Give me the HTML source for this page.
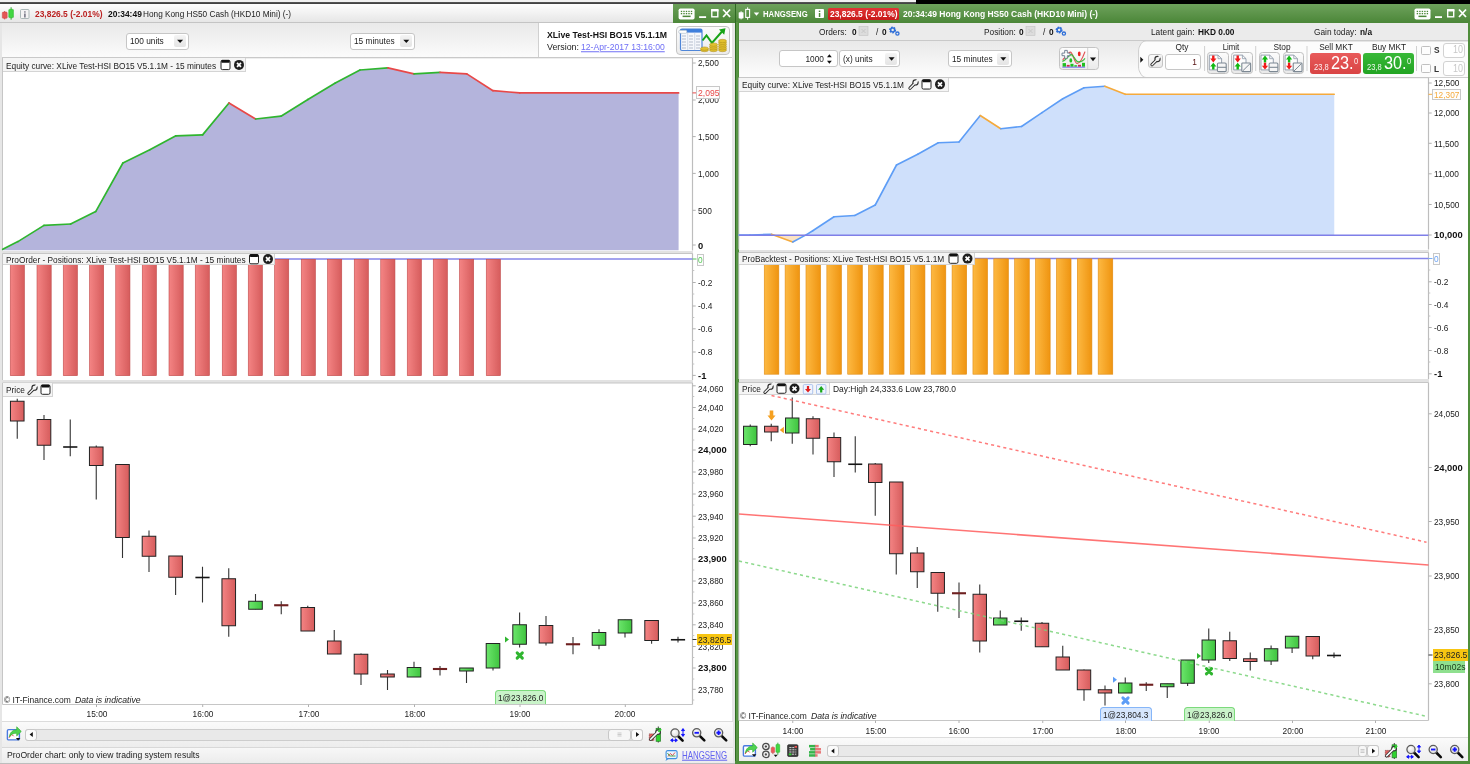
<!DOCTYPE html>
<html><head><meta charset="utf-8"><title>chart</title>
<style>
html,body{margin:0;padding:0;background:#fff}
body{filter:blur(.4px);width:1470px;height:764px;position:relative;overflow:hidden;font-family:"Liberation Sans",sans-serif}
.t{position:absolute;white-space:pre;line-height:1;font-family:"Liberation Sans",sans-serif}
.ov{position:absolute;left:0;top:0;pointer-events:none}
</style></head><body>
<svg class="ov" width="1470" height="764" viewBox="0 0 1470 764">
<defs>
<linearGradient id="gr" x1="0" x2="1" y1="0" y2="0"><stop offset="0" stop-color="#f48484"/><stop offset="1" stop-color="#d65c5c"/></linearGradient>
<linearGradient id="gg" x1="0" x2="1" y1="0" y2="0"><stop offset="0" stop-color="#6ce66c"/><stop offset="1" stop-color="#3fc43f"/></linearGradient>
<linearGradient id="go" x1="0" x2="1" y1="0" y2="0"><stop offset="0" stop-color="#fdb942"/><stop offset="1" stop-color="#ef9410"/></linearGradient>
</defs>
</svg>
<div style="position:absolute;left:0px;top:0px;width:1470px;height:4px;background:#f1f1f1"></div>
<div style="position:absolute;left:0px;top:2px;width:916px;height:2px;background:linear-gradient(#5a5a5a,#3c3c3c)"></div>
<div style="position:absolute;left:916px;top:0px;width:554px;height:4px;background:#000"></div>
<div style="position:absolute;left:0px;top:4px;width:735px;height:18px;background:linear-gradient(#fefefe,#e6e6e6);border-bottom:1px solid #c4c4c4"></div>
<div style="position:absolute;left:673px;top:4px;width:62px;height:19px;background:linear-gradient(#6a9f58,#4c8739)"></div>
<div style="position:absolute;left:0px;top:23px;width:735px;height:34px;background:linear-gradient(#e9e9e9,#fbfbfb)"></div>
<div style="position:absolute;left:0px;top:57.3px;width:735px;height:1px;background:#cfcfcf"></div>
<div style="position:absolute;left:538px;top:23px;width:195px;height:34px;background:#fff;border-left:1px solid #d0d0d0"></div>
<div style="position:absolute;left:0px;top:58px;width:735px;height:706px;background:#fff"></div>
<div style="position:absolute;left:732px;top:23px;width:3px;height:741px;background:#e6e6e6"></div>
<div style="position:absolute;left:0px;top:23px;width:2px;height:741px;background:#e6e6e6"></div>
<span class="t" style="left:35px;top:13.6px;font-size:9.5px;color:#bb2222;transform:translate(0,-50%) scaleX(0.887);transform-origin:0 50%;font-weight:bold;">23,826.5 (-2.01%)</span>
<span class="t" style="left:108px;top:13.6px;font-size:9.5px;color:#111;transform:translate(0,-50%) scaleX(0.89);transform-origin:0 50%;font-weight:bold;">20:34:49</span>
<span class="t" style="left:143.3px;top:13.6px;font-size:9.5px;color:#222;transform:translate(0,-50%) scaleX(0.868);transform-origin:0 50%;">Hong Kong HS50 Cash (HKD10 Mini) (-)</span>
<svg class="ov" width="1470" height="764" viewBox="0 0 1470 764">
<line x1="4.7" y1="11" x2="4.7" y2="19.4" stroke="#c84040" stroke-width=".9"/><rect x="2.3" y="12.1" width="4.9" height="6.2" rx=".8" fill="#e35656" stroke="#cf4545" stroke-width=".5"/>
<line x1="11.1" y1="7.3" x2="11.1" y2="19.7" stroke="#25a825" stroke-width="1"/><rect x="8.8" y="9.4" width="4.6" height="8.2" rx=".6" fill="#41d641" stroke="#2ab82a" stroke-width=".6"/>
<rect x="20.5" y="9.5" width="8.5" height="9" rx="1" fill="#f4f4f4" stroke="#9aa" stroke-width=".8"/><rect x="24.2" y="13.5" width="1.4" height="4" fill="#667"/><rect x="24.2" y="11.3" width="1.4" height="1.3" fill="#667"/>
<rect x="678.6" y="8.5" width="16" height="11" rx="1.8" fill="#fff"/>
<rect x="680.8000000000001" y="10.8" width="1.4" height="1.3" fill="#4c8739"/><rect x="680.8000000000001" y="13" width="1.4" height="1.3" fill="#4c8739"/>
<rect x="683.3000000000001" y="10.8" width="1.4" height="1.3" fill="#4c8739"/><rect x="683.3000000000001" y="13" width="1.4" height="1.3" fill="#4c8739"/>
<rect x="685.8000000000001" y="10.8" width="1.4" height="1.3" fill="#4c8739"/><rect x="685.8000000000001" y="13" width="1.4" height="1.3" fill="#4c8739"/>
<rect x="688.3000000000001" y="10.8" width="1.4" height="1.3" fill="#4c8739"/><rect x="688.3000000000001" y="13" width="1.4" height="1.3" fill="#4c8739"/>
<rect x="690.8000000000001" y="10.8" width="1.4" height="1.3" fill="#4c8739"/><rect x="690.8000000000001" y="13" width="1.4" height="1.3" fill="#4c8739"/>
<rect x="682.6" y="15.6" width="8" height="1.5" fill="#4c8739"/>
<rect x="699.1" y="16.2" width="7" height="1.8" fill="#fff"/>
<rect x="711.8000000000001" y="10.4" width="6" height="6.4" fill="none" stroke="#fff" stroke-width="1.4"/><rect x="711.1" y="9" width="7.4" height="2.4" fill="#fff"/>
<path d="M723.1 9.5 l7 7.5 M730.1 9.5 l-7 7.5" stroke="#fff" stroke-width="1.8" fill="none"/>
</svg>
<div style="position:absolute;left:126.3px;top:32.5px;width:62.5px;height:17px;background:#fff;border:1px solid #c6c6c6;border-radius:3px;box-sizing:border-box"></div>
<div style="position:absolute;left:173.8px;top:35.0px;width:12px;height:12px;background:linear-gradient(#f4f4f4,#e4e4e4);border-radius:2px"></div>
<svg class="ov" width="1470" height="764" viewBox="0 0 1470 764">
<path d="M177.10000000000002 39.7 h6 l-3 3.3z" fill="#111"/>
</svg>
<span class="t" style="left:130.3px;top:41.3px;font-size:9.5px;color:#222;transform:translate(0,-50%) scaleX(0.875);transform-origin:0 50%;">100 units</span>
<div style="position:absolute;left:350px;top:32.5px;width:65px;height:17px;background:#fff;border:1px solid #c6c6c6;border-radius:3px;box-sizing:border-box"></div>
<div style="position:absolute;left:400px;top:35.0px;width:12px;height:12px;background:linear-gradient(#f4f4f4,#e4e4e4);border-radius:2px"></div>
<svg class="ov" width="1470" height="764" viewBox="0 0 1470 764">
<path d="M403.3 39.7 h6 l-3 3.3z" fill="#111"/>
</svg>
<span class="t" style="left:354px;top:41.3px;font-size:9.5px;color:#222;transform:translate(0,-50%) scaleX(0.875);transform-origin:0 50%;">15 minutes</span>
<span class="t" style="left:547px;top:35.4px;font-size:9.5px;color:#111;transform:translate(0,-50%) scaleX(0.914);transform-origin:0 50%;font-weight:bold;">XLive Test-HSI BO15 V5.1.1M</span>
<span class="t" style="left:547px;top:46.7px;font-size:9.5px;color:#222;transform:translate(0,-50%) scaleX(0.93);transform-origin:0 50%;">Version:</span>
<span class="t" style="left:581px;top:46.7px;font-size:9.5px;color:#6f6ff5;transform:translate(0,-50%) scaleX(0.906);transform-origin:0 50%;text-decoration:underline;">12-Apr-2017 13:16:00</span>
<div style="position:absolute;left:675.5px;top:25.5px;width:54px;height:29px;background:linear-gradient(#fbfbfb,#ececec);border:1px solid #c4c4c4;border-radius:4px;box-sizing:border-box"></div>
<svg class="ov" width="1470" height="764" viewBox="0 0 1470 764">
<g>
<rect x="680.5" y="29" width="21.5" height="21.5" rx="1.5" fill="#f6f8fc" stroke="#4f86d8" stroke-width="1.2"/>
<rect x="680.5" y="29" width="21.5" height="3.6" fill="#3f7fdc"/>
<rect x="678.8" y="30.3" width="8" height="3" rx="1" fill="#fff" stroke="#9ab" stroke-width=".5"/>
<path d="M687.7 32.6v17.5M694.7 32.6v17.5" stroke="#b8c4d8" stroke-width=".6"/>
<path d="M682 36h4M682 39h4M682 42h4M682 45h4M682 48h4M689 36h4M689 39h4M689 42h4M689 45h4M689 48h4M696 36h4M696 39h4M696 42h4M696 45h4M696 48h4" stroke="#98a4b8" stroke-width=".7"/>
<path d="M702.5 40.5l4-5 5.5 7.5 10-11.5" fill="none" stroke="#17a317" stroke-width="2"/>
<path d="M719 29.5l6.5-1.3-1.3 6.5z" fill="#17a317"/>
<g fill="#e2c12e" stroke="#a8891a" stroke-width=".5">
<ellipse cx="704.5" cy="50" rx="4" ry="1.7"/><ellipse cx="704.5" cy="48.6" rx="4" ry="1.7"/>
<ellipse cx="713.5" cy="50" rx="4" ry="1.7"/><ellipse cx="713.5" cy="48.2" rx="4" ry="1.7"/><ellipse cx="713.5" cy="46.4" rx="4" ry="1.7"/><ellipse cx="713.5" cy="44.6" rx="4" ry="1.7"/>
<ellipse cx="722.5" cy="50" rx="4" ry="1.7"/><ellipse cx="722.5" cy="48.2" rx="4" ry="1.7"/><ellipse cx="722.5" cy="46.4" rx="4" ry="1.7"/><ellipse cx="722.5" cy="44.6" rx="4" ry="1.7"/><ellipse cx="722.5" cy="42.8" rx="4" ry="1.7"/><ellipse cx="722.5" cy="41" rx="4" ry="1.7"/>
</g></g>
<path d="M2.5 250.5V57.8H692.5" fill="none" stroke="#c6c6c6" stroke-width="1"/>
<path d="M692.5 57.8V250.5" stroke="#bdbdbd" stroke-width="1.2"/>
<polygon points="2.7,249.3 17.9,241.6 44,225.4 70.6,224 95.7,211.6 122.9,163 149.8,149.8 175.9,135.8 202.6,134.9 229,103 255.6,119 281,116.2 307.9,99.5 335.3,83 360,70 387.9,67.9 414,73.9 440,72.3 466.8,73.9 493,90.7 519.8,92.9 678.6,92.9 678.6,250.2 2.7,250.2" fill="#b4b4dc"/>
<line x1="2.7" y1="249.3" x2="17.9" y2="241.6" stroke="#2fb52f" stroke-width="1.7" stroke-linecap="round"/>
<line x1="17.9" y1="241.6" x2="44" y2="225.4" stroke="#2fb52f" stroke-width="1.7" stroke-linecap="round"/>
<line x1="44" y1="225.4" x2="70.6" y2="224" stroke="#2fb52f" stroke-width="1.7" stroke-linecap="round"/>
<line x1="70.6" y1="224" x2="95.7" y2="211.6" stroke="#2fb52f" stroke-width="1.7" stroke-linecap="round"/>
<line x1="95.7" y1="211.6" x2="122.9" y2="163" stroke="#2fb52f" stroke-width="1.7" stroke-linecap="round"/>
<line x1="122.9" y1="163" x2="149.8" y2="149.8" stroke="#2fb52f" stroke-width="1.7" stroke-linecap="round"/>
<line x1="149.8" y1="149.8" x2="175.9" y2="135.8" stroke="#2fb52f" stroke-width="1.7" stroke-linecap="round"/>
<line x1="175.9" y1="135.8" x2="202.6" y2="134.9" stroke="#2fb52f" stroke-width="1.7" stroke-linecap="round"/>
<line x1="202.6" y1="134.9" x2="229" y2="103" stroke="#2fb52f" stroke-width="1.7" stroke-linecap="round"/>
<line x1="229" y1="103" x2="255.6" y2="119" stroke="#e84848" stroke-width="1.7" stroke-linecap="round"/>
<line x1="255.6" y1="119" x2="281" y2="116.2" stroke="#2fb52f" stroke-width="1.7" stroke-linecap="round"/>
<line x1="281" y1="116.2" x2="307.9" y2="99.5" stroke="#2fb52f" stroke-width="1.7" stroke-linecap="round"/>
<line x1="307.9" y1="99.5" x2="335.3" y2="83" stroke="#2fb52f" stroke-width="1.7" stroke-linecap="round"/>
<line x1="335.3" y1="83" x2="360" y2="70" stroke="#2fb52f" stroke-width="1.7" stroke-linecap="round"/>
<line x1="360" y1="70" x2="387.9" y2="67.9" stroke="#2fb52f" stroke-width="1.7" stroke-linecap="round"/>
<line x1="387.9" y1="67.9" x2="414" y2="73.9" stroke="#e84848" stroke-width="1.7" stroke-linecap="round"/>
<line x1="414" y1="73.9" x2="440" y2="72.3" stroke="#2fb52f" stroke-width="1.7" stroke-linecap="round"/>
<line x1="440" y1="72.3" x2="466.8" y2="73.9" stroke="#e84848" stroke-width="1.7" stroke-linecap="round"/>
<line x1="466.8" y1="73.9" x2="493" y2="90.7" stroke="#e84848" stroke-width="1.7" stroke-linecap="round"/>
<line x1="493" y1="90.7" x2="519.8" y2="92.9" stroke="#e84848" stroke-width="1.7" stroke-linecap="round"/>
<line x1="519.8" y1="92.9" x2="678.6" y2="92.9" stroke="#e84848" stroke-width="1.7" stroke-linecap="round"/>
</svg>
<div style="position:absolute;left:3px;top:58.3px;width:243px;height:14px;background:#f5f5f5;border:1px solid #d4d4d4;border-left:none;border-top:none;box-sizing:border-box"></div>
<span class="t" style="left:6px;top:65.6px;font-size:9.5px;color:#222;transform:translate(0,-50%) scaleX(0.875);transform-origin:0 50%;">Equity curve: XLive Test-HSI BO15 V5.1.1M - 15 minutes</span>
<svg class="ov" width="1470" height="764" viewBox="0 0 1470 764">
<rect x="221" y="60.3" width="9" height="9.3" rx="1.4" fill="#fff" stroke="#222" stroke-width="1"/><rect x="221.3" y="60.099999999999994" width="8.4" height="2.6" rx=".8" fill="#111"/>
<circle cx="239" cy="64.89999999999999" r="5" fill="#1e1e1e"/><path d="M237 62.9l4 4M241 62.9l-4 4" stroke="#fff" stroke-width="1.7"/>
<line x1="692.5" y1="63" x2="695.7" y2="63" stroke="#b0b0b0" stroke-width="1"/>
</svg>
<span class="t" style="left:697.7px;top:63.4px;font-size:9.5px;color:#222;transform:translate(0,-50%) scaleX(0.875);transform-origin:0 50%;">2,500</span>
<svg class="ov" width="1470" height="764" viewBox="0 0 1470 764">
<line x1="692.5" y1="100" x2="695.7" y2="100" stroke="#b0b0b0" stroke-width="1"/>
</svg>
<span class="t" style="left:697.7px;top:100.4px;font-size:9.5px;color:#222;transform:translate(0,-50%) scaleX(0.875);transform-origin:0 50%;">2,000</span>
<svg class="ov" width="1470" height="764" viewBox="0 0 1470 764">
<line x1="692.5" y1="136.6" x2="695.7" y2="136.6" stroke="#b0b0b0" stroke-width="1"/>
</svg>
<span class="t" style="left:697.7px;top:137.0px;font-size:9.5px;color:#222;transform:translate(0,-50%) scaleX(0.875);transform-origin:0 50%;">1,500</span>
<svg class="ov" width="1470" height="764" viewBox="0 0 1470 764">
<line x1="692.5" y1="173.4" x2="695.7" y2="173.4" stroke="#b0b0b0" stroke-width="1"/>
</svg>
<span class="t" style="left:697.7px;top:173.8px;font-size:9.5px;color:#222;transform:translate(0,-50%) scaleX(0.875);transform-origin:0 50%;">1,000</span>
<svg class="ov" width="1470" height="764" viewBox="0 0 1470 764">
<line x1="692.5" y1="210.3" x2="695.7" y2="210.3" stroke="#b0b0b0" stroke-width="1"/>
</svg>
<span class="t" style="left:697.7px;top:210.70000000000002px;font-size:9.5px;color:#222;transform:translate(0,-50%) scaleX(0.875);transform-origin:0 50%;">500</span>
<span class="t" style="left:697.7px;top:246.3px;font-size:9.7px;color:#111;transform:translate(0,-50%) scaleX(0.97);transform-origin:0 50%;font-weight:bold;">0</span>
<svg class="ov" width="1470" height="764" viewBox="0 0 1470 764">
<line x1="692.5" y1="245" x2="695.7" y2="245" stroke="#b0b0b0"/>
<line x1="692.5" y1="92.9" x2="696.5" y2="92.9" stroke="#e84848" stroke-width="1"/>
</svg>
<div style="position:absolute;left:696.3px;top:86px;width:23.7px;height:12.6px;background:#fdfdfd;border:1px solid #c8c8c8;box-sizing:border-box"></div>
<span class="t" style="left:698px;top:92.9px;font-size:9.5px;color:#e84848;transform:translate(0,-50%) scaleX(0.9);transform-origin:0 50%;">2,095</span>
<div style="position:absolute;left:2px;top:250.5px;width:691.0px;height:3px;background:#e2e2e2"></div>
<svg class="ov" width="1470" height="764" viewBox="0 0 1470 764">
<path d="M2.5 380V253.5H692.5" fill="none" stroke="#c6c6c6" stroke-width="1"/>
<path d="M692.5 253.5V380" stroke="#bdbdbd" stroke-width="1.2"/>
<line x1="3" y1="259" x2="692.5" y2="259" stroke="#8484ea" stroke-width="1.5"/>
<rect x="10.25" y="259.3" width="14.2" height="116.4" fill="url(#gr)" stroke="#c04c4c" stroke-width=".6"/>
<rect x="37.0" y="259.3" width="14.2" height="116.4" fill="url(#gr)" stroke="#c04c4c" stroke-width=".6"/>
<rect x="63.25" y="259.3" width="14.2" height="116.4" fill="url(#gr)" stroke="#c04c4c" stroke-width=".6"/>
<rect x="89.5" y="259.3" width="14.2" height="116.4" fill="url(#gr)" stroke="#c04c4c" stroke-width=".6"/>
<rect x="115.75" y="259.3" width="14.2" height="116.4" fill="url(#gr)" stroke="#c04c4c" stroke-width=".6"/>
<rect x="142.25" y="259.3" width="14.2" height="116.4" fill="url(#gr)" stroke="#c04c4c" stroke-width=".6"/>
<rect x="169.0" y="259.3" width="14.2" height="116.4" fill="url(#gr)" stroke="#c04c4c" stroke-width=".6"/>
<rect x="195.25" y="259.3" width="14.2" height="116.4" fill="url(#gr)" stroke="#c04c4c" stroke-width=".6"/>
<rect x="222.25" y="259.3" width="14.2" height="116.4" fill="url(#gr)" stroke="#c04c4c" stroke-width=".6"/>
<rect x="248.25" y="259.3" width="14.2" height="116.4" fill="url(#gr)" stroke="#c04c4c" stroke-width=".6"/>
<rect x="274.55" y="259.3" width="14.2" height="116.4" fill="url(#gr)" stroke="#c04c4c" stroke-width=".6"/>
<rect x="301.25" y="259.3" width="14.2" height="116.4" fill="url(#gr)" stroke="#c04c4c" stroke-width=".6"/>
<rect x="327.55" y="259.3" width="14.2" height="116.4" fill="url(#gr)" stroke="#c04c4c" stroke-width=".6"/>
<rect x="354.25" y="259.3" width="14.2" height="116.4" fill="url(#gr)" stroke="#c04c4c" stroke-width=".6"/>
<rect x="380.75" y="259.3" width="14.2" height="116.4" fill="url(#gr)" stroke="#c04c4c" stroke-width=".6"/>
<rect x="407.25" y="259.3" width="14.2" height="116.4" fill="url(#gr)" stroke="#c04c4c" stroke-width=".6"/>
<rect x="433.25" y="259.3" width="14.2" height="116.4" fill="url(#gr)" stroke="#c04c4c" stroke-width=".6"/>
<rect x="459.5" y="259.3" width="14.2" height="116.4" fill="url(#gr)" stroke="#c04c4c" stroke-width=".6"/>
<rect x="486.25" y="259.3" width="14.2" height="116.4" fill="url(#gr)" stroke="#c04c4c" stroke-width=".6"/>
</svg>
<div style="position:absolute;left:3px;top:253.7px;width:272px;height:11.6px;background:#f5f5f5;border:1px solid #d4d4d4;border-left:none;border-top:none;box-sizing:border-box"></div>
<span class="t" style="left:6px;top:259.8px;font-size:9.5px;color:#222;transform:translate(0,-50%) scaleX(0.875);transform-origin:0 50%;">ProOrder - Positions: XLive Test-HSI BO15 V5.1.1M - 15 minutes</span>
<svg class="ov" width="1470" height="764" viewBox="0 0 1470 764">
<rect x="249.5" y="254.5" width="9" height="9.3" rx="1.4" fill="#fff" stroke="#222" stroke-width="1"/><rect x="249.8" y="254.3" width="8.4" height="2.6" rx=".8" fill="#111"/>
<circle cx="268" cy="259.1" r="5" fill="#1e1e1e"/><path d="M266 257.1l4 4M270 257.1l-4 4" stroke="#fff" stroke-width="1.7"/>
<line x1="692.5" y1="282.5" x2="695.7" y2="282.5" stroke="#b0b0b0" stroke-width="1"/>
</svg>
<span class="t" style="left:697.7px;top:282.9px;font-size:9.5px;color:#222;transform:translate(0,-50%) scaleX(0.875);transform-origin:0 50%;">-0.2</span>
<svg class="ov" width="1470" height="764" viewBox="0 0 1470 764">
<line x1="692.5" y1="306" x2="695.7" y2="306" stroke="#b0b0b0" stroke-width="1"/>
</svg>
<span class="t" style="left:697.7px;top:306.4px;font-size:9.5px;color:#222;transform:translate(0,-50%) scaleX(0.875);transform-origin:0 50%;">-0.4</span>
<svg class="ov" width="1470" height="764" viewBox="0 0 1470 764">
<line x1="692.5" y1="328.8" x2="695.7" y2="328.8" stroke="#b0b0b0" stroke-width="1"/>
</svg>
<span class="t" style="left:697.7px;top:329.2px;font-size:9.5px;color:#222;transform:translate(0,-50%) scaleX(0.875);transform-origin:0 50%;">-0.6</span>
<svg class="ov" width="1470" height="764" viewBox="0 0 1470 764">
<line x1="692.5" y1="352" x2="695.7" y2="352" stroke="#b0b0b0" stroke-width="1"/>
</svg>
<span class="t" style="left:697.7px;top:352.4px;font-size:9.5px;color:#222;transform:translate(0,-50%) scaleX(0.875);transform-origin:0 50%;">-0.8</span>
<span class="t" style="left:697.7px;top:375.6px;font-size:9.7px;color:#111;transform:translate(0,-50%) scaleX(0.97);transform-origin:0 50%;font-weight:bold;">-1</span>
<svg class="ov" width="1470" height="764" viewBox="0 0 1470 764">
<line x1="692.5" y1="375.4" x2="695.7" y2="375.4" stroke="#b0b0b0"/>
<line x1="692.5" y1="270.5" x2="694.3" y2="270.5" stroke="#c4c4c4" stroke-width="1"/>
<line x1="692.5" y1="294" x2="694.3" y2="294" stroke="#c4c4c4" stroke-width="1"/>
<line x1="692.5" y1="317.5" x2="694.3" y2="317.5" stroke="#c4c4c4" stroke-width="1"/>
<line x1="692.5" y1="340.5" x2="694.3" y2="340.5" stroke="#c4c4c4" stroke-width="1"/>
<line x1="692.5" y1="364" x2="694.3" y2="364" stroke="#c4c4c4" stroke-width="1"/>
<line x1="692.5" y1="259" x2="696.5" y2="259" stroke="#55c855" stroke-width="1"/>
</svg>
<div style="position:absolute;left:696.5px;top:253.5px;width:7.5px;height:12px;background:#fdfdfd;border:1px solid #c8c8c8;box-sizing:border-box"></div>
<span class="t" style="left:698px;top:259.6px;font-size:9.5px;color:#55c855;transform:translate(0,-50%) scaleX(0.875);transform-origin:0 50%;">0</span>
<div style="position:absolute;left:2px;top:380px;width:691.0px;height:3px;background:#e2e2e2"></div>
<svg class="ov" width="1470" height="764" viewBox="0 0 1470 764">
<path d="M2.5 704.5V383H692.5" fill="none" stroke="#c6c6c6" stroke-width="1"/>
<path d="M692.5 383V704.5" stroke="#bdbdbd" stroke-width="1.2"/>
<line x1="2.5" y1="704.5" x2="692.5" y2="704.5" stroke="#c6c6c6"/>
<line x1="17.25" y1="398.75" x2="17.25" y2="438.75" stroke="#333" stroke-width="1.1"/>
<rect x="10.45" y="401.25" width="13.6" height="19.75" fill="url(#gr)" stroke="#222" stroke-width="1"/>
<line x1="44" y1="415" x2="44" y2="460" stroke="#333" stroke-width="1.1"/>
<rect x="37.2" y="419.5" width="13.6" height="25.75" fill="url(#gr)" stroke="#222" stroke-width="1"/>
<line x1="70.25" y1="419.5" x2="70.25" y2="456.25" stroke="#333" stroke-width="1.1"/>
<line x1="63.150000000000006" y1="447" x2="77.35" y2="447" stroke="#151515" stroke-width="1.6"/>
<line x1="96.25" y1="445.5" x2="96.25" y2="499.5" stroke="#333" stroke-width="1.1"/>
<rect x="89.45" y="447" width="13.6" height="18.5" fill="url(#gr)" stroke="#222" stroke-width="1"/>
<line x1="122.5" y1="464.5" x2="122.5" y2="558" stroke="#333" stroke-width="1.1"/>
<rect x="115.7" y="464.5" width="13.6" height="73.0" fill="url(#gr)" stroke="#222" stroke-width="1"/>
<line x1="149" y1="530.5" x2="149" y2="572" stroke="#333" stroke-width="1.1"/>
<rect x="142.2" y="536.25" width="13.6" height="20.0" fill="url(#gr)" stroke="#222" stroke-width="1"/>
<line x1="175.6" y1="556" x2="175.6" y2="595" stroke="#333" stroke-width="1.1"/>
<rect x="168.79999999999998" y="556" width="13.6" height="21.25" fill="url(#gr)" stroke="#222" stroke-width="1"/>
<line x1="202.5" y1="566.75" x2="202.5" y2="602.5" stroke="#333" stroke-width="1.1"/>
<line x1="195.39999999999998" y1="577.5" x2="209.60000000000002" y2="577.5" stroke="#151515" stroke-width="1.6"/>
<line x1="228.75" y1="568.25" x2="228.75" y2="636.75" stroke="#333" stroke-width="1.1"/>
<rect x="221.95" y="578.75" width="13.6" height="47.0" fill="url(#gr)" stroke="#222" stroke-width="1"/>
<line x1="255.5" y1="594" x2="255.5" y2="609.25" stroke="#333" stroke-width="1.1"/>
<rect x="248.7" y="601.25" width="13.6" height="8.0" fill="url(#gg)" stroke="#222" stroke-width="1"/>
<line x1="281.25" y1="601.25" x2="281.25" y2="614.25" stroke="#333" stroke-width="1.1"/>
<line x1="274.15" y1="605.25" x2="288.35" y2="605.25" stroke="#6e2020" stroke-width="2.1"/>
<line x1="307.75" y1="605.75" x2="307.75" y2="631" stroke="#333" stroke-width="1.1"/>
<rect x="300.95" y="607.5" width="13.6" height="23.5" fill="url(#gr)" stroke="#222" stroke-width="1"/>
<line x1="334.25" y1="630" x2="334.25" y2="654" stroke="#333" stroke-width="1.1"/>
<rect x="327.45" y="641" width="13.6" height="13" fill="url(#gr)" stroke="#222" stroke-width="1"/>
<line x1="361" y1="653.5" x2="361" y2="685" stroke="#333" stroke-width="1.1"/>
<rect x="354.2" y="654.25" width="13.6" height="19.75" fill="url(#gr)" stroke="#222" stroke-width="1"/>
<line x1="387.5" y1="670" x2="387.5" y2="690" stroke="#333" stroke-width="1.1"/>
<rect x="380.7" y="674" width="13.6" height="3" fill="url(#gr)" stroke="#222" stroke-width="1"/>
<line x1="414" y1="661.75" x2="414" y2="677" stroke="#333" stroke-width="1.1"/>
<rect x="407.2" y="667.5" width="13.6" height="9.5" fill="url(#gg)" stroke="#222" stroke-width="1"/>
<line x1="440" y1="666" x2="440" y2="675.5" stroke="#333" stroke-width="1.1"/>
<line x1="432.9" y1="669" x2="447.1" y2="669" stroke="#6e2020" stroke-width="2.1"/>
<line x1="466.5" y1="668" x2="466.5" y2="683" stroke="#333" stroke-width="1.1"/>
<rect x="459.7" y="668" width="13.6" height="3" fill="url(#gg)" stroke="#222" stroke-width="1"/>
<line x1="493" y1="643.5" x2="493" y2="670.5" stroke="#333" stroke-width="1.1"/>
<rect x="486.2" y="643.5" width="13.6" height="24.5" fill="url(#gg)" stroke="#222" stroke-width="1"/>
<line x1="519.6" y1="612.5" x2="519.6" y2="647.5" stroke="#333" stroke-width="1.1"/>
<rect x="512.8000000000001" y="624.75" width="13.6" height="19.5" fill="url(#gg)" stroke="#222" stroke-width="1"/>
<line x1="546" y1="616" x2="546" y2="645.5" stroke="#333" stroke-width="1.1"/>
<rect x="539.2" y="625.5" width="13.6" height="17.5" fill="url(#gr)" stroke="#222" stroke-width="1"/>
<line x1="573" y1="637" x2="573" y2="654.25" stroke="#333" stroke-width="1.1"/>
<line x1="565.9000000000001" y1="644.25" x2="580.0999999999999" y2="644.25" stroke="#6e2020" stroke-width="2.1"/>
<line x1="599" y1="629.25" x2="599" y2="649.25" stroke="#333" stroke-width="1.1"/>
<rect x="592.2" y="632.5" width="13.6" height="12.75" fill="url(#gg)" stroke="#222" stroke-width="1"/>
<line x1="625" y1="619.75" x2="625" y2="637.5" stroke="#333" stroke-width="1.1"/>
<rect x="618.2" y="619.75" width="13.6" height="13.25" fill="url(#gg)" stroke="#222" stroke-width="1"/>
<line x1="651.6" y1="620.5" x2="651.6" y2="643.75" stroke="#333" stroke-width="1.1"/>
<rect x="644.8000000000001" y="620.5" width="13.6" height="20.0" fill="url(#gr)" stroke="#222" stroke-width="1"/>
<line x1="678" y1="636.75" x2="678" y2="642.5" stroke="#333" stroke-width="1.1"/>
<line x1="670.9000000000001" y1="639.75" x2="685.0999999999999" y2="639.75" stroke="#151515" stroke-width="1.6"/>
<path d="M505 636.5l4 3-4 3z" fill="#2fb52f"/>
<path d="M517.15 652.9L522.35 658.1M522.35 652.9L517.15 658.1" stroke="#2fb52f" stroke-width="3" stroke-linecap="round"/>
</svg>
<div style="position:absolute;left:3px;top:383px;width:50px;height:14px;background:#f5f5f5;border:1px solid #d4d4d4;border-left:none;border-top:none;box-sizing:border-box"></div>
<span class="t" style="left:6px;top:390.3px;font-size:9.5px;color:#222;transform:translate(0,-50%) scaleX(0.875);transform-origin:0 50%;">Price</span>
<svg class="ov" width="1470" height="764" viewBox="0 0 1470 764">
<g transform="translate(27,383.8)"><path d="M2 9.6L6.4 5.2" stroke="#2e2e2e" stroke-width="3.3" stroke-linecap="round"/><circle cx="7.5" cy="3.9" r="3.15" fill="#2e2e2e"/><path d="M2 9.6L6.4 5.2" stroke="#f4f4f4" stroke-width="1.4" stroke-linecap="round"/><circle cx="7.5" cy="3.9" r="2" fill="#f4f4f4"/><path d="M7.9 3.5L11.6 -.2" stroke="#f5f5f5" stroke-width="2.1"/></g>
<rect x="41" y="385.0" width="9" height="9.3" rx="1.4" fill="#fff" stroke="#222" stroke-width="1"/><rect x="41.3" y="384.8" width="8.4" height="2.6" rx=".8" fill="#111"/>
</svg>
<span class="t" style="left:4px;top:699.7px;font-size:9.5px;color:#222;transform:translate(0,-50%) scaleX(0.89);transform-origin:0 50%;">© IT-Finance.com</span>
<span class="t" style="left:74.5px;top:699.7px;font-size:9.5px;color:#222;transform:translate(0,-50%) scaleX(0.914);transform-origin:0 50%;font-style:italic;">Data is indicative</span>
<div style="position:absolute;left:494.5px;top:690.3px;width:51.5px;height:14.2px;background:#c9f3c9;border:1.5px solid #7cda7c;border-bottom:none;border-radius:3.5px 3.5px 0 0;box-sizing:border-box"></div>
<span class="t" style="left:497.5px;top:698px;font-size:9.5px;color:#222;transform:translate(0,-50%) scaleX(0.875);transform-origin:0 50%;">1@23,826.0</span>
<svg class="ov" width="1470" height="764" viewBox="0 0 1470 764">
<line x1="692.5" y1="385.8" x2="695.7" y2="385.8" stroke="#b0b0b0"/>
</svg>
<span class="t" style="left:697.7px;top:389.1px;font-size:9.5px;color:#222;transform:translate(0,-50%) scaleX(0.875);transform-origin:0 50%;">24,060</span>
<svg class="ov" width="1470" height="764" viewBox="0 0 1470 764">
<line x1="692.5" y1="407.5" x2="695.7" y2="407.5" stroke="#b0b0b0"/>
</svg>
<span class="t" style="left:697.7px;top:407.8px;font-size:9.5px;color:#222;transform:translate(0,-50%) scaleX(0.875);transform-origin:0 50%;">24,040</span>
<svg class="ov" width="1470" height="764" viewBox="0 0 1470 764">
<line x1="692.5" y1="429" x2="695.7" y2="429" stroke="#b0b0b0"/>
</svg>
<span class="t" style="left:697.7px;top:429.3px;font-size:9.5px;color:#222;transform:translate(0,-50%) scaleX(0.875);transform-origin:0 50%;">24,020</span>
<svg class="ov" width="1470" height="764" viewBox="0 0 1470 764">
<line x1="692.5" y1="450" x2="695.7" y2="450" stroke="#b0b0b0"/>
</svg>
<span class="t" style="left:697.7px;top:450.3px;font-size:9.7px;color:#111;transform:translate(0,-50%) scaleX(0.97);transform-origin:0 50%;font-weight:bold;">24,000</span>
<svg class="ov" width="1470" height="764" viewBox="0 0 1470 764">
<line x1="692.5" y1="472" x2="695.7" y2="472" stroke="#b0b0b0"/>
</svg>
<span class="t" style="left:697.7px;top:472.3px;font-size:9.5px;color:#222;transform:translate(0,-50%) scaleX(0.875);transform-origin:0 50%;">23,980</span>
<svg class="ov" width="1470" height="764" viewBox="0 0 1470 764">
<line x1="692.5" y1="494" x2="695.7" y2="494" stroke="#b0b0b0"/>
</svg>
<span class="t" style="left:697.7px;top:494.3px;font-size:9.5px;color:#222;transform:translate(0,-50%) scaleX(0.875);transform-origin:0 50%;">23,960</span>
<svg class="ov" width="1470" height="764" viewBox="0 0 1470 764">
<line x1="692.5" y1="516.2" x2="695.7" y2="516.2" stroke="#b0b0b0"/>
</svg>
<span class="t" style="left:697.7px;top:516.5px;font-size:9.5px;color:#222;transform:translate(0,-50%) scaleX(0.875);transform-origin:0 50%;">23,940</span>
<svg class="ov" width="1470" height="764" viewBox="0 0 1470 764">
<line x1="692.5" y1="538" x2="695.7" y2="538" stroke="#b0b0b0"/>
</svg>
<span class="t" style="left:697.7px;top:538.3px;font-size:9.5px;color:#222;transform:translate(0,-50%) scaleX(0.875);transform-origin:0 50%;">23,920</span>
<svg class="ov" width="1470" height="764" viewBox="0 0 1470 764">
<line x1="692.5" y1="559" x2="695.7" y2="559" stroke="#b0b0b0"/>
</svg>
<span class="t" style="left:697.7px;top:559.0999999999999px;font-size:9.7px;color:#111;transform:translate(0,-50%) scaleX(0.97);transform-origin:0 50%;font-weight:bold;">23,900</span>
<svg class="ov" width="1470" height="764" viewBox="0 0 1470 764">
<line x1="692.5" y1="581" x2="695.7" y2="581" stroke="#b0b0b0"/>
</svg>
<span class="t" style="left:697.7px;top:581.3px;font-size:9.5px;color:#222;transform:translate(0,-50%) scaleX(0.875);transform-origin:0 50%;">23,880</span>
<svg class="ov" width="1470" height="764" viewBox="0 0 1470 764">
<line x1="692.5" y1="603" x2="695.7" y2="603" stroke="#b0b0b0"/>
</svg>
<span class="t" style="left:697.7px;top:603.3px;font-size:9.5px;color:#222;transform:translate(0,-50%) scaleX(0.875);transform-origin:0 50%;">23,860</span>
<svg class="ov" width="1470" height="764" viewBox="0 0 1470 764">
<line x1="692.5" y1="624.8" x2="695.7" y2="624.8" stroke="#b0b0b0"/>
</svg>
<span class="t" style="left:697.7px;top:625.0999999999999px;font-size:9.5px;color:#222;transform:translate(0,-50%) scaleX(0.875);transform-origin:0 50%;">23,840</span>
<svg class="ov" width="1470" height="764" viewBox="0 0 1470 764">
<line x1="692.5" y1="646.5" x2="695.7" y2="646.5" stroke="#b0b0b0"/>
</svg>
<span class="t" style="left:697.7px;top:647.3px;font-size:9.5px;color:#222;transform:translate(0,-50%) scaleX(0.875);transform-origin:0 50%;">23,820</span>
<svg class="ov" width="1470" height="764" viewBox="0 0 1470 764">
<line x1="692.5" y1="668" x2="695.7" y2="668" stroke="#b0b0b0"/>
</svg>
<span class="t" style="left:697.7px;top:668.3px;font-size:9.7px;color:#111;transform:translate(0,-50%) scaleX(0.97);transform-origin:0 50%;font-weight:bold;">23,800</span>
<svg class="ov" width="1470" height="764" viewBox="0 0 1470 764">
<line x1="692.5" y1="689.3" x2="695.7" y2="689.3" stroke="#b0b0b0"/>
</svg>
<span class="t" style="left:697.7px;top:689.5999999999999px;font-size:9.5px;color:#222;transform:translate(0,-50%) scaleX(0.875);transform-origin:0 50%;">23,780</span>
<svg class="ov" width="1470" height="764" viewBox="0 0 1470 764">
<line x1="692.5" y1="396.5" x2="694.3" y2="396.5" stroke="#c4c4c4" stroke-width="1"/>
<line x1="692.5" y1="418.5" x2="694.3" y2="418.5" stroke="#c4c4c4" stroke-width="1"/>
<line x1="692.5" y1="440" x2="694.3" y2="440" stroke="#c4c4c4" stroke-width="1"/>
<line x1="692.5" y1="461" x2="694.3" y2="461" stroke="#c4c4c4" stroke-width="1"/>
<line x1="692.5" y1="483" x2="694.3" y2="483" stroke="#c4c4c4" stroke-width="1"/>
<line x1="692.5" y1="505" x2="694.3" y2="505" stroke="#c4c4c4" stroke-width="1"/>
<line x1="692.5" y1="527" x2="694.3" y2="527" stroke="#c4c4c4" stroke-width="1"/>
<line x1="692.5" y1="548.5" x2="694.3" y2="548.5" stroke="#c4c4c4" stroke-width="1"/>
<line x1="692.5" y1="570" x2="694.3" y2="570" stroke="#c4c4c4" stroke-width="1"/>
<line x1="692.5" y1="592" x2="694.3" y2="592" stroke="#c4c4c4" stroke-width="1"/>
<line x1="692.5" y1="614" x2="694.3" y2="614" stroke="#c4c4c4" stroke-width="1"/>
<line x1="692.5" y1="635.5" x2="694.3" y2="635.5" stroke="#c4c4c4" stroke-width="1"/>
<line x1="692.5" y1="657.5" x2="694.3" y2="657.5" stroke="#c4c4c4" stroke-width="1"/>
<line x1="692.5" y1="679" x2="694.3" y2="679" stroke="#c4c4c4" stroke-width="1"/>
<line x1="692.5" y1="700" x2="694.3" y2="700" stroke="#c4c4c4" stroke-width="1"/>
<line x1="692.5" y1="639.5" x2="696.5" y2="639.5" stroke="#333"/>
</svg>
<div style="position:absolute;left:696.5px;top:633.5px;width:35.5px;height:11.5px;background:#f7c511"></div>
<span class="t" style="left:697.8px;top:639.6px;font-size:9.8px;color:#222;transform:translate(0,-50%) scaleX(0.875);transform-origin:0 50%;">23,826.5</span>
<svg class="ov" width="1470" height="764" viewBox="0 0 1470 764">
<line x1="96.5" y1="704.5" x2="96.5" y2="707" stroke="#b0b0b0"/>
</svg>
<span class="t" style="left:96.5px;top:714.1px;font-size:9.5px;color:#222;transform:translate(-50%,-50%) scaleX(0.875);transform-origin:50% 50%;">15:00</span>
<svg class="ov" width="1470" height="764" viewBox="0 0 1470 764">
<line x1="202.7" y1="704.5" x2="202.7" y2="707" stroke="#b0b0b0"/>
</svg>
<span class="t" style="left:202.7px;top:714.1px;font-size:9.5px;color:#222;transform:translate(-50%,-50%) scaleX(0.875);transform-origin:50% 50%;">16:00</span>
<svg class="ov" width="1470" height="764" viewBox="0 0 1470 764">
<line x1="308.5" y1="704.5" x2="308.5" y2="707" stroke="#b0b0b0"/>
</svg>
<span class="t" style="left:308.5px;top:714.1px;font-size:9.5px;color:#222;transform:translate(-50%,-50%) scaleX(0.875);transform-origin:50% 50%;">17:00</span>
<svg class="ov" width="1470" height="764" viewBox="0 0 1470 764">
<line x1="414.5" y1="704.5" x2="414.5" y2="707" stroke="#b0b0b0"/>
</svg>
<span class="t" style="left:414.5px;top:714.1px;font-size:9.5px;color:#222;transform:translate(-50%,-50%) scaleX(0.875);transform-origin:50% 50%;">18:00</span>
<svg class="ov" width="1470" height="764" viewBox="0 0 1470 764">
<line x1="520" y1="704.5" x2="520" y2="707" stroke="#b0b0b0"/>
</svg>
<span class="t" style="left:520px;top:714.1px;font-size:9.5px;color:#222;transform:translate(-50%,-50%) scaleX(0.875);transform-origin:50% 50%;">19:00</span>
<svg class="ov" width="1470" height="764" viewBox="0 0 1470 764">
<line x1="625.3" y1="704.5" x2="625.3" y2="707" stroke="#b0b0b0"/>
</svg>
<span class="t" style="left:625.3px;top:714.1px;font-size:9.5px;color:#222;transform:translate(-50%,-50%) scaleX(0.875);transform-origin:50% 50%;">20:00</span>
<div style="position:absolute;left:2px;top:720.5px;width:731px;height:1.5px;background:#dcdcdc"></div>
<div style="position:absolute;left:2px;top:722px;width:731px;height:25px;background:linear-gradient(#fafafa,#ededed)"></div>
<div style="position:absolute;left:25.3px;top:728.5px;width:618.0px;height:12px;background:#e9e9e9;border:1px solid #cdcdcd;border-radius:3px;box-sizing:border-box"></div>
<div style="position:absolute;left:25.3px;top:728.5px;width:12px;height:12px;background:#fbfbfb;border:1px solid #c8c8c8;border-radius:3px;box-sizing:border-box"></div>
<svg class="ov" width="1470" height="764" viewBox="0 0 1470 764">
<path d="M32.8 731.9v5.2l-3.2-2.6z" fill="#111"/>
</svg>
<div style="position:absolute;left:631.3px;top:728.5px;width:12px;height:12px;background:#fbfbfb;border:1px solid #c8c8c8;border-radius:3px;box-sizing:border-box"></div>
<svg class="ov" width="1470" height="764" viewBox="0 0 1470 764">
<path d="M636.0 731.9v5.2l3.2-2.6z" fill="#111"/>
</svg>
<div style="position:absolute;left:608px;top:728.5px;width:23px;height:12px;background:#f6f6f6;border:1px solid #c8c8c8;border-radius:3px;box-sizing:border-box"></div>
<svg class="ov" width="1470" height="764" viewBox="0 0 1470 764">
<path d="M617.5 733.0h4M617.5 734.5h4M617.5 736.0h4" stroke="#c0c0c0" stroke-width=".8"/>
<g transform="translate(6.7,726.3)"><rect x=".7" y="3.300" width="12" height="10.300" rx="1.200" fill="#fff" stroke="#4a7ae0" stroke-width="1.400"/><path d="M2.300 11.500l2.600-3.600 2 2" stroke="#e04040" stroke-width="1" fill="none"/><path d="M2.600 10.500c.8-5 4-7 7.400-7V.5l4.600 4.600-4.600 4.600V6.900c-3.200 0-5.400 1-7.400 3.600z" fill="#4fd24f" stroke="#2fae2f" stroke-width=".6"/><path d="M9.200 11.700h4.400l-2.200 2.600z" fill="#111"/></g>
<g transform="translate(648.5,727.5)"><path d="M9.8 -1v16" stroke="#2a2a2a" stroke-width=".9"/><rect x="7.600" y=".8" width="4.500" height="13" fill="#2fd42f" stroke="#2a7a2a" stroke-width=".7"/><rect x=".8" y="6.400" width="4.600" height="6.600" fill="#e36060" stroke="#7a3a3a" stroke-width=".7" stroke-dasharray="1.2 .8"/><path d="M2.200 11.800L8.600 5.400" stroke="#3a3a3a" stroke-width="3.300" stroke-linecap="round"/><circle cx="9.600" cy="4.600" r="2.900" fill="#3a3a3a"/><path d="M2.200 11.800L8.600 5.400" stroke="#fff" stroke-width="1.600" stroke-linecap="round"/><circle cx="9.600" cy="4.600" r="1.700" fill="#fff"/><path d="M9.900 4.300L12.600 1.600" stroke="#2fd42f" stroke-width="1.900"/></g>
<g transform="translate(670,728)"><defs><radialGradient id="lensa" cx=".4" cy=".35" r=".7"><stop offset="0" stop-color="#fff"/><stop offset="1" stop-color="#d6d6d6"/></radialGradient></defs><path d="M8 8l4.600 4.600" stroke="#0a0a0a" stroke-width="2.600" stroke-linecap="round"/><circle cx="5" cy="5" r="4.100" fill="url(#lensa)" stroke="#5c5c5c" stroke-width="1.300"/><path d="M13 1.500v6M11.500 2.600l1.500-2 1.500 2zM11.500 6.400l1.500 2 1.500-2z" stroke="#1414ff" stroke-width="1" fill="#1414ff"/><path d="M1.500 12.300h5M2.600 10.800l-2 1.500 2 1.500zM5.400 10.800l2 1.500-2 1.500z" stroke="#1414ff" stroke-width="1" fill="#1414ff"/></g>
<g transform="translate(691.7,727.8)"><defs><radialGradient id="lensm" cx=".4" cy=".35" r=".7"><stop offset="0" stop-color="#fff"/><stop offset="1" stop-color="#d6d6d6"/></radialGradient></defs><path d="M8 8l4.600 4.600" stroke="#0a0a0a" stroke-width="2.600" stroke-linecap="round"/><circle cx="5" cy="5" r="4.100" fill="url(#lensm)" stroke="#5c5c5c" stroke-width="1.300"/><path d="M2.800 5h4.400" stroke="#1414ff" stroke-width="1.900"/></g>
<g transform="translate(713.6,727.8)"><defs><radialGradient id="lensp" cx=".4" cy=".35" r=".7"><stop offset="0" stop-color="#fff"/><stop offset="1" stop-color="#d6d6d6"/></radialGradient></defs><path d="M8 8l4.600 4.600" stroke="#0a0a0a" stroke-width="2.600" stroke-linecap="round"/><circle cx="5" cy="5" r="4.100" fill="url(#lensp)" stroke="#5c5c5c" stroke-width="1.300"/><path d="M2.800 5h4.400M5 2.800v4.400" stroke="#1414ff" stroke-width="1.900"/></g>
</svg>
<div style="position:absolute;left:2px;top:747px;width:731px;height:1px;background:#d8d8d8"></div>
<div style="position:absolute;left:2px;top:748px;width:731px;height:15px;background:linear-gradient(#f7f7f7,#ececec)"></div>
<div style="position:absolute;left:0px;top:762.5px;width:735px;height:1.5px;background:#bdbdbd"></div>
<span class="t" style="left:7px;top:755.2px;font-size:9.5px;color:#222;transform:translate(0,-50%) scaleX(0.905);transform-origin:0 50%;">ProOrder chart: only to view trading system results</span>
<span class="t" style="left:682px;top:755px;font-size:10.6px;color:#6262f0;transform:translate(0,-50%) scaleX(0.745);transform-origin:0 50%;text-decoration:underline;">HANGSENG</span>
<svg class="ov" width="1470" height="764" viewBox="0 0 1470 764">
<g transform="translate(665.5,750)"><rect x=".6" y=".6" width="11" height="8" rx="1.5" fill="#eaf3ff" stroke="#3f8fe0" stroke-width="1.1"/><path d="M2.5 6.5l2.5-3 2 2 2.5-3" stroke="#e04040" stroke-width=".9" fill="none"/><path d="M2 3l2 3h6" stroke="#2a9a2a" stroke-width=".8" fill="none"/><path d="M1 8.5l-1 2.5 3-2" fill="#3f8fe0"/></g>
</svg>
<div style="position:absolute;left:735px;top:4px;width:735px;height:760px;background:#4f8d3b"></div>
<div style="position:absolute;left:735px;top:4px;width:735px;height:19px;background:linear-gradient(#6ea25c,#4b8638)"></div>
<div style="position:absolute;left:735px;top:22px;width:1px;height:742px;background:#3f742e"></div>
<div style="position:absolute;left:738.5px;top:23px;width:729px;height:17px;background:#ebebeb"></div>
<div style="position:absolute;left:738.5px;top:40px;width:729px;height:1px;background:#c9c9c9"></div>
<div style="position:absolute;left:738.5px;top:41px;width:729px;height:36.5px;background:linear-gradient(#e9e9e9,#fdfdfd)"></div>
<div style="position:absolute;left:738.5px;top:77.5px;width:729px;height:684px;background:#fff"></div>
<svg class="ov" width="1470" height="764" viewBox="0 0 1470 764">
<rect x="738.7" y="12.2" width="4.8" height="6.2" rx=".6" fill="#fff"/><path d="M741.1 11.2v8.2" stroke="#fff" stroke-width=".9"/><rect x="745.7" y="9.4" width="3.9" height="8" fill="none" stroke="#fff" stroke-width="1.1"/><path d="M747.65 7.3v2.1M747.65 17.4v2.3" stroke="#fff" stroke-width="1"/>
<path d="M753.8 12.5h5.4l-2.7 3.2z" fill="#fff"/>
</svg>
<span class="t" style="left:762.7px;top:13.8px;font-size:9.5px;color:#fff;transform:translate(0,-50%) scaleX(0.815);transform-origin:0 50%;font-weight:bold;">HANGSENG</span>
<svg class="ov" width="1470" height="764" viewBox="0 0 1470 764">
<rect x="815" y="9" width="9" height="9" rx="1" fill="#fff"/><rect x="818.8" y="13" width="1.5" height="4" fill="#4b8638"/><rect x="818.8" y="10.6" width="1.5" height="1.4" fill="#4b8638"/>
</svg>
<div style="position:absolute;left:828px;top:7.5px;width:71px;height:12.5px;background:linear-gradient(#e03535,#c81a1a);border-radius:1.5px"></div>
<span class="t" style="left:830px;top:13.7px;font-size:9.5px;color:#fff;transform:translate(0,-50%) scaleX(0.887);transform-origin:0 50%;font-weight:bold;">23,826.5 (-2.01%)</span>
<span class="t" style="left:903px;top:13.7px;font-size:9.5px;color:#fff;transform:translate(0,-50%) scaleX(0.894);transform-origin:0 50%;font-weight:bold;">20:34:49 Hong Kong HS50 Cash (HKD10 Mini) (-)</span>
<svg class="ov" width="1470" height="764" viewBox="0 0 1470 764">
<rect x="1414.5" y="8.5" width="16" height="11" rx="1.8" fill="#fff"/>
<rect x="1416.7" y="10.8" width="1.4" height="1.3" fill="#4c8739"/><rect x="1416.7" y="13" width="1.4" height="1.3" fill="#4c8739"/>
<rect x="1419.2" y="10.8" width="1.4" height="1.3" fill="#4c8739"/><rect x="1419.2" y="13" width="1.4" height="1.3" fill="#4c8739"/>
<rect x="1421.7" y="10.8" width="1.4" height="1.3" fill="#4c8739"/><rect x="1421.7" y="13" width="1.4" height="1.3" fill="#4c8739"/>
<rect x="1424.2" y="10.8" width="1.4" height="1.3" fill="#4c8739"/><rect x="1424.2" y="13" width="1.4" height="1.3" fill="#4c8739"/>
<rect x="1426.7" y="10.8" width="1.4" height="1.3" fill="#4c8739"/><rect x="1426.7" y="13" width="1.4" height="1.3" fill="#4c8739"/>
<rect x="1418.5" y="15.6" width="8" height="1.5" fill="#4c8739"/>
<rect x="1435.0" y="16.2" width="7" height="1.8" fill="#fff"/>
<rect x="1447.7" y="10.4" width="6" height="6.4" fill="none" stroke="#fff" stroke-width="1.4"/><rect x="1447.0" y="9" width="7.4" height="2.4" fill="#fff"/>
<path d="M1459.0 9.5 l7 7.5 M1466.0 9.5 l-7 7.5" stroke="#fff" stroke-width="1.8" fill="none"/>
</svg>
<span class="t" style="left:819px;top:31.7px;font-size:9.5px;color:#222;transform:translate(0,-50%) scaleX(0.875);transform-origin:0 50%;">Orders:</span>
<span class="t" style="left:851.5px;top:31.7px;font-size:9.5px;color:#111;transform:translate(0,-50%) scaleX(0.875);transform-origin:0 50%;font-weight:bold;">0</span>
<svg class="ov" width="1470" height="764" viewBox="0 0 1470 764">
<rect x="859" y="26.5" width="9" height="9" fill="#dcdcdc" stroke="#c4c4c4" stroke-width=".6"/><path d="M861.5 29.0l4 4M865.5 29.0l-4 4" stroke="#c8c8c8" stroke-width="1"/>
</svg>
<span class="t" style="left:875.5px;top:31.7px;font-size:9.5px;color:#111;transform:translate(0,-50%) scaleX(0.875);transform-origin:0 50%;">/</span>
<span class="t" style="left:882px;top:31.7px;font-size:9.5px;color:#111;transform:translate(0,-50%) scaleX(0.875);transform-origin:0 50%;font-weight:bold;">0</span>
<svg class="ov" width="1470" height="764" viewBox="0 0 1470 764">
<g transform="translate(889,26.3)"><circle cx="3.6" cy="3.6" r="2.5" fill="none" stroke="#2f6fd8" stroke-width="2" stroke-dasharray="1.6 .9"/><circle cx="3.6" cy="3.6" r="2" fill="none" stroke="#2f6fd8" stroke-width="1.4"/><circle cx="8.4" cy="7.3" r="1.6" fill="none" stroke="#2f6fd8" stroke-width="1.3"/></g>
</svg>
<span class="t" style="left:983.5px;top:31.7px;font-size:9.5px;color:#222;transform:translate(0,-50%) scaleX(0.875);transform-origin:0 50%;">Position:</span>
<span class="t" style="left:1018.5px;top:31.7px;font-size:9.5px;color:#111;transform:translate(0,-50%) scaleX(0.875);transform-origin:0 50%;font-weight:bold;">0</span>
<svg class="ov" width="1470" height="764" viewBox="0 0 1470 764">
<rect x="1026" y="26.5" width="9" height="9" fill="#dcdcdc" stroke="#c4c4c4" stroke-width=".6"/><path d="M1028.5 29.0l4 4M1032.5 29.0l-4 4" stroke="#c8c8c8" stroke-width="1"/>
</svg>
<span class="t" style="left:1043px;top:31.7px;font-size:9.5px;color:#111;transform:translate(0,-50%) scaleX(0.875);transform-origin:0 50%;">/</span>
<span class="t" style="left:1049px;top:31.7px;font-size:9.5px;color:#111;transform:translate(0,-50%) scaleX(0.875);transform-origin:0 50%;font-weight:bold;">0</span>
<svg class="ov" width="1470" height="764" viewBox="0 0 1470 764">
<g transform="translate(1055.5,26.3)"><circle cx="3.6" cy="3.6" r="2.5" fill="none" stroke="#2f6fd8" stroke-width="2" stroke-dasharray="1.6 .9"/><circle cx="3.6" cy="3.6" r="2" fill="none" stroke="#2f6fd8" stroke-width="1.4"/><circle cx="8.4" cy="7.3" r="1.6" fill="none" stroke="#2f6fd8" stroke-width="1.3"/></g>
</svg>
<span class="t" style="left:1150.5px;top:31.7px;font-size:9.5px;color:#222;transform:translate(0,-50%) scaleX(0.875);transform-origin:0 50%;">Latent gain:</span>
<span class="t" style="left:1198px;top:31.7px;font-size:9.5px;color:#111;transform:translate(0,-50%) scaleX(0.875);transform-origin:0 50%;font-weight:bold;">HKD 0.00</span>
<span class="t" style="left:1313.5px;top:31.7px;font-size:9.5px;color:#222;transform:translate(0,-50%) scaleX(0.875);transform-origin:0 50%;">Gain today:</span>
<span class="t" style="left:1360px;top:31.7px;font-size:9.5px;color:#111;transform:translate(0,-50%) scaleX(0.875);transform-origin:0 50%;font-weight:bold;">n/a</span>
<div style="position:absolute;left:778.5px;top:50px;width:59.5px;height:17.3px;background:#fff;border:1px solid #c6c6c6;border-radius:3px;box-sizing:border-box"></div>
<span class="t" style="left:823.5px;top:59px;font-size:9.5px;color:#222;transform:translate(-100%,-50%) scaleX(0.875);transform-origin:100% 50%;">1000</span>
<svg class="ov" width="1470" height="764" viewBox="0 0 1470 764">
<path d="M827 57.3l2.4-3 2.4 3zM827 60.8l2.4 3 2.4-3z" fill="#111"/>
</svg>
<div style="position:absolute;left:838.7px;top:50px;width:61.6px;height:17.3px;background:#fff;border:1px solid #c6c6c6;border-radius:3px;box-sizing:border-box"></div>
<div style="position:absolute;left:885.3000000000001px;top:52.5px;width:12px;height:12.3px;background:linear-gradient(#f4f4f4,#e4e4e4);border-radius:2px"></div>
<svg class="ov" width="1470" height="764" viewBox="0 0 1470 764">
<path d="M888.6 57.35 h6 l-3 3.3z" fill="#111"/>
</svg>
<span class="t" style="left:842.7px;top:58.949999999999996px;font-size:9.5px;color:#222;transform:translate(0,-50%) scaleX(0.875);transform-origin:0 50%;">(x) units</span>
<div style="position:absolute;left:948px;top:50px;width:64px;height:17.3px;background:#fff;border:1px solid #c6c6c6;border-radius:3px;box-sizing:border-box"></div>
<div style="position:absolute;left:997px;top:52.5px;width:12px;height:12.3px;background:linear-gradient(#f4f4f4,#e4e4e4);border-radius:2px"></div>
<svg class="ov" width="1470" height="764" viewBox="0 0 1470 764">
<path d="M1000.3 57.35 h6 l-3 3.3z" fill="#111"/>
</svg>
<span class="t" style="left:952px;top:58.949999999999996px;font-size:9.5px;color:#222;transform:translate(0,-50%) scaleX(0.875);transform-origin:0 50%;">15 minutes</span>
<div style="position:absolute;left:1059px;top:47px;width:40px;height:22.6px;background:linear-gradient(#fdfdfd,#ebebeb);border:1px solid #c4c4c4;border-radius:3.5px;box-sizing:border-box"></div>
<svg class="ov" width="1470" height="764" viewBox="0 0 1470 764">
<path d="M1087.7 48v21.200" stroke="#cfcfcf"/><path d="M1090 57.6h6l-3 3.6z" fill="#111"/>
<g transform="translate(1061.5,50)">
<path d="M.8 11.100C4 11.500 7 4.600 9.600 4.600S14 11.800 16.700 11.800 22 10.500 23.500 8.400L23.500 10C22 12 19 13 16.700 13S12 7 9.600 6.500 4 12.500.8 12.300z" fill="#c9f0c9" opacity=".8"/>
<path d="M1.100 9.700C4 8 6.500 2.200 8.900 2.200S13 13.500 15.700 13.500 21.500 7 23.500 1.600" fill="none" stroke="#e05050" stroke-width="1.200"/>
<path d="M.8 11.100C4 11.500 7 4.600 9.600 4.600S14 11.800 16.700 11.800 22 10.500 23.500 8.400" fill="none" stroke="#3cb83c" stroke-width="1.100"/>
<path d="M3.200 .4h2.600v2.700h2.700v2.600H5.800v2.700H3.200V5.700H.5V3.100h2.700z" fill="#fdfdfd" stroke="#66788c" stroke-width=".9"/>
<ellipse cx="17.750" cy="3.900" rx="1.400" ry="2.400" fill="#f02020"/><ellipse cx="9.300" cy="10.400" rx="1.400" ry="2.200" fill="#1fc01f"/>
<rect x="1.100" y="13.100" width="3.400" height="3.600" fill="#1fc01f"/><rect x="5.200" y="14.900" width="3" height="1.800" fill="#d02a4a"/><rect x="8.900" y="13.800" width="3.100" height="2.900" fill="#1fc01f"/><rect x="12.800" y="15.200" width="2.600" height="1.500" fill="#1fc01f"/><rect x="16.400" y="14.800" width="3.100" height="1.900" fill="#d02a4a"/><rect x="20.500" y="12.800" width="3" height="3.900" fill="#1fc01f"/>
<path d="M.8 17.200h22.800" stroke="#5050ee" stroke-width=".8"/></g>
<path d="M1146 41H1470V77.500H1146c-3 0-4.500-2-6.200-5.500-1-2-1.200-3-1.200-5V51c0-2 .2-3 1.200-5 1.700-3.500 3.200-5 6.200-5z" fill="#fcfcfc" stroke="#cdcdcd" stroke-width="1"/>
<path d="M1140.300 56.800l3 3-3 3z" fill="#111"/>
</svg>
<div style="position:absolute;left:1148px;top:53.5px;width:15px;height:14.5px;background:linear-gradient(#fafafa,#e8e8e8);border:1px solid #c4c4c4;border-radius:3px;box-sizing:border-box"></div>
<svg class="ov" width="1470" height="764" viewBox="0 0 1470 764">
<g transform="translate(1150,55.099999999999994)"><path d="M2 9.6L6.4 5.2" stroke="#2e2e2e" stroke-width="3.3" stroke-linecap="round"/><circle cx="7.5" cy="3.9" r="3.15" fill="#2e2e2e"/><path d="M2 9.6L6.4 5.2" stroke="#f4f4f4" stroke-width="1.4" stroke-linecap="round"/><circle cx="7.5" cy="3.9" r="2" fill="#f4f4f4"/><path d="M7.9 3.5L11.6 -.2" stroke="#f1f1f1" stroke-width="2.1"/></g>
</svg>
<div style="position:absolute;left:1165px;top:53.5px;width:35.7px;height:16.8px;background:#fff;border:1px solid #c6c6c6;border-radius:3px;box-sizing:border-box"></div>
<span class="t" style="left:1196.5px;top:62.3px;font-size:9.5px;color:#511;transform:translate(-100%,-50%) scaleX(0.875);transform-origin:100% 50%;">1</span>
<span class="t" style="left:1182px;top:46.5px;font-size:9.5px;color:#222;transform:translate(-50%,-50%) scaleX(0.875);transform-origin:50% 50%;">Qty</span>
<span class="t" style="left:1230.9px;top:46.5px;font-size:9.5px;color:#222;transform:translate(-50%,-50%) scaleX(0.82);transform-origin:50% 50%;">Limit</span>
<span class="t" style="left:1281.8px;top:46.5px;font-size:9.5px;color:#222;transform:translate(-50%,-50%) scaleX(0.875);transform-origin:50% 50%;">Stop</span>
<span class="t" style="left:1335.7px;top:46.5px;font-size:9.5px;color:#222;transform:translate(-50%,-50%) scaleX(0.875);transform-origin:50% 50%;">Sell MKT</span>
<span class="t" style="left:1388.7px;top:46.5px;font-size:9.5px;color:#222;transform:translate(-50%,-50%) scaleX(0.875);transform-origin:50% 50%;">Buy MKT</span>
<svg class="ov" width="1470" height="764" viewBox="0 0 1470 764">
<path d="M1204.6 46v25" stroke="#d0d0d0"/>
<path d="M1255.7 46v25" stroke="#d0d0d0"/>
<path d="M1307 46v25" stroke="#d0d0d0"/>
<path d="M1416.5 46v25" stroke="#d0d0d0"/>
</svg>
<div style="position:absolute;left:1207px;top:52.4px;width:21.6px;height:21.8px;background:linear-gradient(#fcfcfc,#e9e9e9);border:1px solid #c0c0c0;border-radius:3.500px;box-sizing:border-box"></div>
<svg class="ov" width="1470" height="764" viewBox="0 0 1470 764">
<g transform="translate(1207,52.4)"><path d="M2.300 2.700h8.700l3.600 3.600v11.200H2.300z" fill="#fdfdfd" stroke="#8d99a8" stroke-width=".9"/><path d="M11 2.700v3.600h3.600" fill="none" stroke="#8d99a8" stroke-width=".8"/><path d="M5.1 3.1999999999999997h2.4v3h1.900l-3.100 3.800-3.100-3.800h1.900z" fill="#f01a1a"/><path d="M5.1 17.2h2.4v-3h1.900l-3.100-3.800-3.100 3.800h1.900z" fill="#12b812"/><rect x="10.400" y="10.600" width="8.800" height="8.600" rx="1.200" fill="#f6f6f6" stroke="#7c8893" stroke-width="1.100"/><path d="M10.400 14.900h8.800" stroke="#7c8893" stroke-width="1.100"/></g>
</svg>
<div style="position:absolute;left:1231.4px;top:52.4px;width:21.6px;height:21.8px;background:linear-gradient(#fcfcfc,#e9e9e9);border:1px solid #c0c0c0;border-radius:3.500px;box-sizing:border-box"></div>
<svg class="ov" width="1470" height="764" viewBox="0 0 1470 764">
<g transform="translate(1231.4,52.4)"><path d="M2.300 2.700h8.700l3.600 3.600v11.200H2.300z" fill="#fdfdfd" stroke="#8d99a8" stroke-width=".9"/><path d="M11 2.700v3.600h3.600" fill="none" stroke="#8d99a8" stroke-width=".8"/><path d="M5.1 3.1999999999999997h2.4v3h1.900l-3.100 3.800-3.100-3.800h1.900z" fill="#f01a1a"/><path d="M5.1 17.2h2.4v-3h1.900l-3.100-3.800-3.100 3.800h1.900z" fill="#12b812"/><rect x="10.400" y="10.600" width="8.800" height="8.600" rx=".8" fill="#f6f6f6" stroke="#7c8893" stroke-width="1.100"/><path d="M11.200 18.600l7.400-7.300" stroke="#7c8893" stroke-width="1"/></g>
</svg>
<div style="position:absolute;left:1258.7px;top:52.4px;width:21.6px;height:21.8px;background:linear-gradient(#fcfcfc,#e9e9e9);border:1px solid #c0c0c0;border-radius:3.500px;box-sizing:border-box"></div>
<svg class="ov" width="1470" height="764" viewBox="0 0 1470 764">
<g transform="translate(1258.7,52.4)"><path d="M2.300 2.700h8.700l3.600 3.600v11.200H2.300z" fill="#fdfdfd" stroke="#8d99a8" stroke-width=".9"/><path d="M11 2.700v3.600h3.600" fill="none" stroke="#8d99a8" stroke-width=".8"/><path d="M5.1 10.0h2.4v-3h1.900l-3.100-3.800-3.100 3.800h1.900z" fill="#12b812"/><path d="M5.1 10.4h2.4v3h1.900l-3.100 3.800-3.100-3.800h1.900z" fill="#f01a1a"/><rect x="10.400" y="10.600" width="8.800" height="8.600" rx="1.200" fill="#f6f6f6" stroke="#7c8893" stroke-width="1.100"/><path d="M10.400 14.900h8.800" stroke="#7c8893" stroke-width="1.100"/></g>
</svg>
<div style="position:absolute;left:1282.8px;top:52.4px;width:21.6px;height:21.8px;background:linear-gradient(#fcfcfc,#e9e9e9);border:1px solid #c0c0c0;border-radius:3.500px;box-sizing:border-box"></div>
<svg class="ov" width="1470" height="764" viewBox="0 0 1470 764">
<g transform="translate(1282.8,52.4)"><path d="M2.300 2.700h8.700l3.600 3.600v11.200H2.300z" fill="#fdfdfd" stroke="#8d99a8" stroke-width=".9"/><path d="M11 2.700v3.600h3.600" fill="none" stroke="#8d99a8" stroke-width=".8"/><path d="M5.1 10.0h2.4v-3h1.900l-3.100-3.800-3.100 3.800h1.900z" fill="#12b812"/><path d="M5.1 10.4h2.4v3h1.900l-3.100 3.800-3.100-3.800h1.900z" fill="#f01a1a"/><rect x="10.400" y="10.600" width="8.800" height="8.600" rx=".8" fill="#f6f6f6" stroke="#7c8893" stroke-width="1.100"/><path d="M11.200 18.600l7.400-7.300" stroke="#7c8893" stroke-width="1"/></g>
</svg>
<div style="position:absolute;left:1310px;top:52.7px;width:51px;height:21.3px;background:linear-gradient(#e85a5a,#d94444);border-radius:3px"></div>
<div style="position:absolute;left:1363px;top:52.7px;width:51px;height:21.3px;background:linear-gradient(#38b838,#22a422);border-radius:3px"></div>
<span class="t" style="left:1313.5px;top:66.8px;font-size:8.4px;color:#fff;transform:translate(0,-50%) scaleX(0.9);transform-origin:0 50%;opacity:.92;">23,8</span>
<span class="t" style="left:1330.5px;top:63.7px;font-size:17.5px;color:#fff;transform:translate(0,-50%) scaleX(0.93);transform-origin:0 50%;">23.</span>
<span class="t" style="left:1354px;top:60.5px;font-size:8.4px;color:#fff;transform:translate(0,-50%) scaleX(0.9);transform-origin:0 50%;opacity:.92;">0</span>
<span class="t" style="left:1366.5px;top:66.8px;font-size:8.4px;color:#fff;transform:translate(0,-50%) scaleX(0.9);transform-origin:0 50%;opacity:.92;">23,8</span>
<span class="t" style="left:1383.5px;top:63.7px;font-size:17.5px;color:#fff;transform:translate(0,-50%) scaleX(0.93);transform-origin:0 50%;">30.</span>
<span class="t" style="left:1407px;top:60.5px;font-size:8.4px;color:#fff;transform:translate(0,-50%) scaleX(0.9);transform-origin:0 50%;opacity:.92;">0</span>
<div style="position:absolute;left:1421px;top:45.6px;width:9.5px;height:9.5px;background:#fdfdfd;border:1px solid #c0c0c0;border-radius:1.5px;box-sizing:border-box"></div>
<span class="t" style="left:1434px;top:50.400000000000006px;font-size:9.5px;color:#333;transform:translate(0,-50%) scaleX(0.875);transform-origin:0 50%;font-weight:bold;">S</span>
<div style="position:absolute;left:1442.8px;top:42.7px;width:22.7px;height:15px;background:#fff;border:1px solid #d2d2d2;border-radius:3px;box-sizing:border-box"></div>
<span class="t" style="left:1463px;top:50.400000000000006px;font-size:10.3px;color:#c8c8c8;transform:translate(-100%,-50%) scaleX(0.875);transform-origin:100% 50%;">10</span>
<div style="position:absolute;left:1421px;top:63.800000000000004px;width:9.5px;height:9.5px;background:#fdfdfd;border:1px solid #c0c0c0;border-radius:1.5px;box-sizing:border-box"></div>
<span class="t" style="left:1434px;top:68.60000000000001px;font-size:9.5px;color:#333;transform:translate(0,-50%) scaleX(0.875);transform-origin:0 50%;font-weight:bold;">L</span>
<div style="position:absolute;left:1442.8px;top:61.2px;width:22.7px;height:14.6px;background:#fff;border:1px solid #d2d2d2;border-radius:3px;box-sizing:border-box"></div>
<span class="t" style="left:1463px;top:68.60000000000001px;font-size:10.3px;color:#c8c8c8;transform:translate(-100%,-50%) scaleX(0.875);transform-origin:100% 50%;">10</span>
<div style="position:absolute;left:738.5px;top:77px;width:729px;height:1px;background:#cfcfcf"></div>
<svg class="ov" width="1470" height="764" viewBox="0 0 1470 764">
<path d="M738.8 249.5V77.7H1428.5" fill="none" stroke="#c6c6c6" stroke-width="1"/>
<path d="M1428.5 77.7V249.5" stroke="#bdbdbd" stroke-width="1.2"/>
<polygon points="806.5,234.6 812.75,230.75 834,216.75 854.75,215.5 875.25,205 896.5,165 917.75,154.25 938.25,142.75 959,142 980.25,115.5 1000.75,128.75 1021.5,126.5 1042,112.6 1062.75,98.75 1084,87.75 1104.8,86.3 1125.3,94.3 1334.25,94.3 1334.250,235 806.500,235" fill="#cfe0fb"/>
<polygon points="771.500,234.500 792.750,242 806.500,234.800" fill="#fbe3c4"/>
<line x1="739" y1="235" x2="750" y2="235" stroke="#5d9df6" stroke-width="1.600" stroke-linecap="round"/>
<line x1="750" y1="235" x2="771.5" y2="234.3" stroke="#5d9df6" stroke-width="1.600" stroke-linecap="round"/>
<line x1="771.5" y1="234.3" x2="792.75" y2="242" stroke="#f5aa3c" stroke-width="1.600" stroke-linecap="round"/>
<line x1="792.75" y1="242" x2="806.5" y2="234.6" stroke="#5d9df6" stroke-width="1.600" stroke-linecap="round"/>
<line x1="806.5" y1="234.6" x2="812.75" y2="230.75" stroke="#5d9df6" stroke-width="1.600" stroke-linecap="round"/>
<line x1="812.75" y1="230.75" x2="834" y2="216.75" stroke="#5d9df6" stroke-width="1.600" stroke-linecap="round"/>
<line x1="834" y1="216.75" x2="854.75" y2="215.5" stroke="#5d9df6" stroke-width="1.600" stroke-linecap="round"/>
<line x1="854.75" y1="215.5" x2="875.25" y2="205" stroke="#5d9df6" stroke-width="1.600" stroke-linecap="round"/>
<line x1="875.25" y1="205" x2="896.5" y2="165" stroke="#5d9df6" stroke-width="1.600" stroke-linecap="round"/>
<line x1="896.5" y1="165" x2="917.75" y2="154.25" stroke="#5d9df6" stroke-width="1.600" stroke-linecap="round"/>
<line x1="917.75" y1="154.25" x2="938.25" y2="142.75" stroke="#5d9df6" stroke-width="1.600" stroke-linecap="round"/>
<line x1="938.25" y1="142.75" x2="959" y2="142" stroke="#5d9df6" stroke-width="1.600" stroke-linecap="round"/>
<line x1="959" y1="142" x2="980.25" y2="115.5" stroke="#5d9df6" stroke-width="1.600" stroke-linecap="round"/>
<line x1="980.25" y1="115.5" x2="1000.75" y2="128.75" stroke="#f5aa3c" stroke-width="1.600" stroke-linecap="round"/>
<line x1="1000.75" y1="128.75" x2="1021.5" y2="126.5" stroke="#5d9df6" stroke-width="1.600" stroke-linecap="round"/>
<line x1="1021.5" y1="126.5" x2="1042" y2="112.6" stroke="#5d9df6" stroke-width="1.600" stroke-linecap="round"/>
<line x1="1042" y1="112.6" x2="1062.75" y2="98.75" stroke="#5d9df6" stroke-width="1.600" stroke-linecap="round"/>
<line x1="1062.75" y1="98.75" x2="1084" y2="87.75" stroke="#5d9df6" stroke-width="1.600" stroke-linecap="round"/>
<line x1="1084" y1="87.75" x2="1104.8" y2="86.3" stroke="#5d9df6" stroke-width="1.600" stroke-linecap="round"/>
<line x1="1104.8" y1="86.3" x2="1125.3" y2="94.3" stroke="#f5aa3c" stroke-width="1.600" stroke-linecap="round"/>
<line x1="1125.3" y1="94.3" x2="1334.25" y2="94.3" stroke="#f5aa3c" stroke-width="1.600" stroke-linecap="round"/>
<line x1="739" y1="235.200" x2="1428.5" y2="235.200" stroke="#7f7fe8" stroke-width="1.500"/>
</svg>
<div style="position:absolute;left:739px;top:78px;width:209.5px;height:13.5px;background:#f5f5f5;border:1px solid #d4d4d4;border-left:none;border-top:none;box-sizing:border-box"></div>
<span class="t" style="left:742px;top:85.05px;font-size:9.5px;color:#222;transform:translate(0,-50%) scaleX(0.875);transform-origin:0 50%;">Equity curve: XLive Test-HSI BO15 V5.1.1M</span>
<svg class="ov" width="1470" height="764" viewBox="0 0 1470 764">
<g transform="translate(908,78.55)"><path d="M2 9.6L6.4 5.2" stroke="#2e2e2e" stroke-width="3.3" stroke-linecap="round"/><circle cx="7.5" cy="3.9" r="3.15" fill="#2e2e2e"/><path d="M2 9.6L6.4 5.2" stroke="#f4f4f4" stroke-width="1.4" stroke-linecap="round"/><circle cx="7.5" cy="3.9" r="2" fill="#f4f4f4"/><path d="M7.9 3.5L11.6 -.2" stroke="#f5f5f5" stroke-width="2.1"/></g>
<rect x="922" y="79.75" width="9" height="9.3" rx="1.4" fill="#fff" stroke="#222" stroke-width="1"/><rect x="922.3" y="79.55" width="8.4" height="2.6" rx=".8" fill="#111"/>
<circle cx="940" cy="84.35" r="5" fill="#1e1e1e"/><path d="M938 82.35l4 4M942 82.35l-4 4" stroke="#fff" stroke-width="1.7"/>
<line x1="1428.5" y1="83" x2="1431.7" y2="83" stroke="#b0b0b0" stroke-width="1"/>
</svg>
<span class="t" style="left:1433.7px;top:83.4px;font-size:9.5px;color:#222;transform:translate(0,-50%) scaleX(0.875);transform-origin:0 50%;">12,500</span>
<svg class="ov" width="1470" height="764" viewBox="0 0 1470 764">
<line x1="1428.5" y1="113" x2="1431.7" y2="113" stroke="#b0b0b0" stroke-width="1"/>
</svg>
<span class="t" style="left:1433.7px;top:113.4px;font-size:9.5px;color:#222;transform:translate(0,-50%) scaleX(0.875);transform-origin:0 50%;">12,000</span>
<svg class="ov" width="1470" height="764" viewBox="0 0 1470 764">
<line x1="1428.5" y1="143.3" x2="1431.7" y2="143.3" stroke="#b0b0b0" stroke-width="1"/>
</svg>
<span class="t" style="left:1433.7px;top:143.70000000000002px;font-size:9.5px;color:#222;transform:translate(0,-50%) scaleX(0.875);transform-origin:0 50%;">11,500</span>
<svg class="ov" width="1470" height="764" viewBox="0 0 1470 764">
<line x1="1428.5" y1="173.8" x2="1431.7" y2="173.8" stroke="#b0b0b0" stroke-width="1"/>
</svg>
<span class="t" style="left:1433.7px;top:174.20000000000002px;font-size:9.5px;color:#222;transform:translate(0,-50%) scaleX(0.875);transform-origin:0 50%;">11,000</span>
<svg class="ov" width="1470" height="764" viewBox="0 0 1470 764">
<line x1="1428.5" y1="204.5" x2="1431.7" y2="204.5" stroke="#b0b0b0" stroke-width="1"/>
</svg>
<span class="t" style="left:1433.7px;top:204.9px;font-size:9.5px;color:#222;transform:translate(0,-50%) scaleX(0.875);transform-origin:0 50%;">10,500</span>
<span class="t" style="left:1433.7px;top:234.6px;font-size:9.7px;color:#111;transform:translate(0,-50%) scaleX(0.97);transform-origin:0 50%;font-weight:bold;">10,000</span>
<svg class="ov" width="1470" height="764" viewBox="0 0 1470 764">
<line x1="1428.5" y1="235" x2="1431.7" y2="235" stroke="#b0b0b0"/>
<line x1="1428.5" y1="94.300" x2="1432.5" y2="94.300" stroke="#f5aa3c"/>
</svg>
<div style="position:absolute;left:1432px;top:88.5px;width:29px;height:11.5px;background:#fdfdfd;border:1px solid #c8c8c8;box-sizing:border-box"></div>
<span class="t" style="left:1433.5px;top:94.5px;font-size:9.5px;color:#f5aa3c;transform:translate(0,-50%) scaleX(0.875);transform-origin:0 50%;">12,307</span>
<div style="position:absolute;left:738.5px;top:249.5px;width:690.5px;height:3px;background:#e2e2e2"></div>
<svg class="ov" width="1470" height="764" viewBox="0 0 1470 764">
<path d="M738.8 379V252.5H1428.5" fill="none" stroke="#c6c6c6" stroke-width="1"/>
<path d="M1428.5 252.5V379" stroke="#bdbdbd" stroke-width="1.2"/>
<line x1="739" y1="258.500" x2="1428.5" y2="258.500" stroke="#8484ea" stroke-width="1.500"/>
<rect x="764.25" y="258.800" width="14.600" height="115.400" fill="url(#go)" stroke="#e08a12" stroke-width=".600"/>
<rect x="785.12" y="258.800" width="14.600" height="115.400" fill="url(#go)" stroke="#e08a12" stroke-width=".600"/>
<rect x="805.99" y="258.800" width="14.600" height="115.400" fill="url(#go)" stroke="#e08a12" stroke-width=".600"/>
<rect x="826.86" y="258.800" width="14.600" height="115.400" fill="url(#go)" stroke="#e08a12" stroke-width=".600"/>
<rect x="847.73" y="258.800" width="14.600" height="115.400" fill="url(#go)" stroke="#e08a12" stroke-width=".600"/>
<rect x="868.60" y="258.800" width="14.600" height="115.400" fill="url(#go)" stroke="#e08a12" stroke-width=".600"/>
<rect x="889.47" y="258.800" width="14.600" height="115.400" fill="url(#go)" stroke="#e08a12" stroke-width=".600"/>
<rect x="910.34" y="258.800" width="14.600" height="115.400" fill="url(#go)" stroke="#e08a12" stroke-width=".600"/>
<rect x="931.21" y="258.800" width="14.600" height="115.400" fill="url(#go)" stroke="#e08a12" stroke-width=".600"/>
<rect x="952.08" y="258.800" width="14.600" height="115.400" fill="url(#go)" stroke="#e08a12" stroke-width=".600"/>
<rect x="972.95" y="258.800" width="14.600" height="115.400" fill="url(#go)" stroke="#e08a12" stroke-width=".600"/>
<rect x="993.82" y="258.800" width="14.600" height="115.400" fill="url(#go)" stroke="#e08a12" stroke-width=".600"/>
<rect x="1014.69" y="258.800" width="14.600" height="115.400" fill="url(#go)" stroke="#e08a12" stroke-width=".600"/>
<rect x="1035.56" y="258.800" width="14.600" height="115.400" fill="url(#go)" stroke="#e08a12" stroke-width=".600"/>
<rect x="1056.43" y="258.800" width="14.600" height="115.400" fill="url(#go)" stroke="#e08a12" stroke-width=".600"/>
<rect x="1077.30" y="258.800" width="14.600" height="115.400" fill="url(#go)" stroke="#e08a12" stroke-width=".600"/>
<rect x="1098.17" y="258.800" width="14.600" height="115.400" fill="url(#go)" stroke="#e08a12" stroke-width=".600"/>
</svg>
<div style="position:absolute;left:739px;top:252.8px;width:235.5px;height:12.4px;background:#f5f5f5;border:1px solid #d4d4d4;border-left:none;border-top:none;box-sizing:border-box"></div>
<span class="t" style="left:742px;top:259.3px;font-size:9.5px;color:#222;transform:translate(0,-50%) scaleX(0.875);transform-origin:0 50%;">ProBacktest - Positions: XLive Test-HSI BO15 V5.1.1M</span>
<svg class="ov" width="1470" height="764" viewBox="0 0 1470 764">
<rect x="949" y="254.0" width="9" height="9.3" rx="1.4" fill="#fff" stroke="#222" stroke-width="1"/><rect x="949.3" y="253.8" width="8.4" height="2.6" rx=".8" fill="#111"/>
<circle cx="967.5" cy="258.6" r="5" fill="#1e1e1e"/><path d="M965.5 256.6l4 4M969.5 256.6l-4 4" stroke="#fff" stroke-width="1.7"/>
<line x1="1428.5" y1="281.8" x2="1431.7" y2="281.8" stroke="#b0b0b0" stroke-width="1"/>
</svg>
<span class="t" style="left:1433.7px;top:282.2px;font-size:9.5px;color:#222;transform:translate(0,-50%) scaleX(0.875);transform-origin:0 50%;">-0.2</span>
<svg class="ov" width="1470" height="764" viewBox="0 0 1470 764">
<line x1="1428.5" y1="304.5" x2="1431.7" y2="304.5" stroke="#b0b0b0" stroke-width="1"/>
</svg>
<span class="t" style="left:1433.7px;top:304.9px;font-size:9.5px;color:#222;transform:translate(0,-50%) scaleX(0.875);transform-origin:0 50%;">-0.4</span>
<svg class="ov" width="1470" height="764" viewBox="0 0 1470 764">
<line x1="1428.5" y1="327.5" x2="1431.7" y2="327.5" stroke="#b0b0b0" stroke-width="1"/>
</svg>
<span class="t" style="left:1433.7px;top:327.9px;font-size:9.5px;color:#222;transform:translate(0,-50%) scaleX(0.875);transform-origin:0 50%;">-0.6</span>
<svg class="ov" width="1470" height="764" viewBox="0 0 1470 764">
<line x1="1428.5" y1="350.5" x2="1431.7" y2="350.5" stroke="#b0b0b0" stroke-width="1"/>
</svg>
<span class="t" style="left:1433.7px;top:350.9px;font-size:9.5px;color:#222;transform:translate(0,-50%) scaleX(0.875);transform-origin:0 50%;">-0.8</span>
<span class="t" style="left:1433.7px;top:374px;font-size:9.7px;color:#111;transform:translate(0,-50%) scaleX(0.97);transform-origin:0 50%;font-weight:bold;">-1</span>
<svg class="ov" width="1470" height="764" viewBox="0 0 1470 764">
<line x1="1428.5" y1="373.800" x2="1431.7" y2="373.800" stroke="#b0b0b0"/>
<line x1="1428.5" y1="270" x2="1430.3" y2="270" stroke="#c4c4c4" stroke-width="1"/>
<line x1="1428.5" y1="293" x2="1430.3" y2="293" stroke="#c4c4c4" stroke-width="1"/>
<line x1="1428.5" y1="316" x2="1430.3" y2="316" stroke="#c4c4c4" stroke-width="1"/>
<line x1="1428.5" y1="339" x2="1430.3" y2="339" stroke="#c4c4c4" stroke-width="1"/>
<line x1="1428.5" y1="362" x2="1430.3" y2="362" stroke="#c4c4c4" stroke-width="1"/>
<line x1="1428.5" y1="258.500" x2="1432.5" y2="258.500" stroke="#7aaef5"/>
</svg>
<div style="position:absolute;left:1432.5px;top:253px;width:7.5px;height:12px;background:#fdfdfd;border:1px solid #c8c8c8;box-sizing:border-box"></div>
<span class="t" style="left:1434px;top:259.2px;font-size:9.5px;color:#6aa2f4;transform:translate(0,-50%) scaleX(0.875);transform-origin:0 50%;">0</span>
<div style="position:absolute;left:738.5px;top:379px;width:690.5px;height:3px;background:#e2e2e2"></div>
<svg class="ov" width="1470" height="764" viewBox="0 0 1470 764">
<path d="M738.8 720.5V382.5H1428.5" fill="none" stroke="#c6c6c6" stroke-width="1"/>
<path d="M1428.5 382.5V720.5" stroke="#bdbdbd" stroke-width="1.2"/>
<line x1="738.800" y1="720.500" x2="1428.5" y2="720.500" stroke="#c6c6c6"/>
<line x1="750.25" y1="424.5" x2="750.25" y2="446.25" stroke="#333" stroke-width="1.1"/>
<rect x="743.55" y="426.25" width="13.4" height="18.25" fill="url(#gg)" stroke="#222" stroke-width="1"/>
<line x1="771.25" y1="423.75" x2="771.25" y2="441.25" stroke="#333" stroke-width="1.1"/>
<rect x="764.55" y="426.25" width="13.4" height="5.75" fill="url(#gr)" stroke="#222" stroke-width="1"/>
<line x1="792.25" y1="397.5" x2="792.25" y2="443.75" stroke="#333" stroke-width="1.1"/>
<rect x="785.55" y="418" width="13.4" height="15" fill="url(#gg)" stroke="#222" stroke-width="1"/>
<line x1="813" y1="416.25" x2="813" y2="454.5" stroke="#333" stroke-width="1.1"/>
<rect x="806.3" y="418.75" width="13.4" height="19.5" fill="url(#gr)" stroke="#222" stroke-width="1"/>
<line x1="834" y1="432.5" x2="834" y2="477" stroke="#333" stroke-width="1.1"/>
<rect x="827.3" y="437.5" width="13.4" height="24.25" fill="url(#gr)" stroke="#222" stroke-width="1"/>
<line x1="855.25" y1="436.25" x2="855.25" y2="472.5" stroke="#333" stroke-width="1.1"/>
<line x1="848.25" y1="464.25" x2="862.25" y2="464.25" stroke="#151515" stroke-width="1.6"/>
<line x1="875.25" y1="463" x2="875.25" y2="515.75" stroke="#333" stroke-width="1.1"/>
<rect x="868.55" y="464" width="13.4" height="18.5" fill="url(#gr)" stroke="#222" stroke-width="1"/>
<line x1="896.25" y1="482" x2="896.25" y2="574.5" stroke="#333" stroke-width="1.1"/>
<rect x="889.55" y="482" width="13.4" height="71.75" fill="url(#gr)" stroke="#222" stroke-width="1"/>
<line x1="917.25" y1="547" x2="917.25" y2="588" stroke="#333" stroke-width="1.1"/>
<rect x="910.55" y="553" width="13.4" height="18.75" fill="url(#gr)" stroke="#222" stroke-width="1"/>
<line x1="937.75" y1="572.5" x2="937.75" y2="611.75" stroke="#333" stroke-width="1.1"/>
<rect x="931.05" y="572.5" width="13.4" height="20.75" fill="url(#gr)" stroke="#222" stroke-width="1"/>
<line x1="959" y1="582.5" x2="959" y2="618" stroke="#333" stroke-width="1.1"/>
<line x1="952.0" y1="593.25" x2="966.0" y2="593.25" stroke="#6e2020" stroke-width="2.1"/>
<line x1="979.75" y1="584.5" x2="979.75" y2="652.5" stroke="#333" stroke-width="1.1"/>
<rect x="973.05" y="594.25" width="13.4" height="46.75" fill="url(#gr)" stroke="#222" stroke-width="1"/>
<line x1="1000.25" y1="610.5" x2="1000.25" y2="625" stroke="#333" stroke-width="1.1"/>
<rect x="993.55" y="618" width="13.4" height="7" fill="url(#gg)" stroke="#222" stroke-width="1"/>
<line x1="1021.25" y1="617.5" x2="1021.25" y2="630.75" stroke="#333" stroke-width="1.1"/>
<line x1="1014.25" y1="621.25" x2="1028.25" y2="621.25" stroke="#151515" stroke-width="1.6"/>
<line x1="1042" y1="622" x2="1042" y2="646.75" stroke="#333" stroke-width="1.1"/>
<rect x="1035.3" y="623.25" width="13.4" height="23.5" fill="url(#gr)" stroke="#222" stroke-width="1"/>
<line x1="1062.75" y1="645.75" x2="1062.75" y2="670" stroke="#333" stroke-width="1.1"/>
<rect x="1056.05" y="657" width="13.4" height="13" fill="url(#gr)" stroke="#222" stroke-width="1"/>
<line x1="1084" y1="669.5" x2="1084" y2="700.75" stroke="#333" stroke-width="1.1"/>
<rect x="1077.3" y="670" width="13.4" height="19.75" fill="url(#gr)" stroke="#222" stroke-width="1"/>
<line x1="1105" y1="685.5" x2="1105" y2="705.5" stroke="#333" stroke-width="1.1"/>
<rect x="1098.3" y="689.75" width="13.4" height="3.25" fill="url(#gr)" stroke="#222" stroke-width="1"/>
<line x1="1125.25" y1="677.5" x2="1125.25" y2="693" stroke="#333" stroke-width="1.1"/>
<rect x="1118.55" y="683" width="13.4" height="10" fill="url(#gg)" stroke="#222" stroke-width="1"/>
<line x1="1146.25" y1="682.25" x2="1146.25" y2="691" stroke="#333" stroke-width="1.1"/>
<line x1="1139.25" y1="684.75" x2="1153.25" y2="684.75" stroke="#6e2020" stroke-width="2.1"/>
<line x1="1167.25" y1="683.75" x2="1167.25" y2="698" stroke="#333" stroke-width="1.1"/>
<rect x="1160.55" y="683.75" width="13.4" height="3.0" fill="url(#gg)" stroke="#222" stroke-width="1"/>
<line x1="1187.6" y1="660" x2="1187.6" y2="686" stroke="#333" stroke-width="1.1"/>
<rect x="1180.8999999999999" y="660" width="13.4" height="23.25" fill="url(#gg)" stroke="#222" stroke-width="1"/>
<line x1="1208.75" y1="628.5" x2="1208.75" y2="663" stroke="#333" stroke-width="1.1"/>
<rect x="1202.05" y="640" width="13.4" height="20" fill="url(#gg)" stroke="#222" stroke-width="1"/>
<line x1="1229.75" y1="631.75" x2="1229.75" y2="661" stroke="#333" stroke-width="1.1"/>
<rect x="1223.05" y="640.75" width="13.4" height="17.75" fill="url(#gr)" stroke="#222" stroke-width="1"/>
<line x1="1250.25" y1="652.5" x2="1250.25" y2="670.5" stroke="#333" stroke-width="1.1"/>
<rect x="1243.55" y="658.75" width="13.4" height="2.75" fill="url(#gr)" stroke="#222" stroke-width="1"/>
<line x1="1271.1" y1="645.5" x2="1271.1" y2="665" stroke="#333" stroke-width="1.1"/>
<rect x="1264.3999999999999" y="648.75" width="13.4" height="12.25" fill="url(#gg)" stroke="#222" stroke-width="1"/>
<line x1="1292.1" y1="636.25" x2="1292.1" y2="653" stroke="#333" stroke-width="1.1"/>
<rect x="1285.3999999999999" y="636.25" width="13.4" height="11.75" fill="url(#gg)" stroke="#222" stroke-width="1"/>
<line x1="1312.75" y1="636.5" x2="1312.75" y2="659.25" stroke="#333" stroke-width="1.1"/>
<rect x="1306.05" y="636.5" width="13.4" height="19.5" fill="url(#gr)" stroke="#222" stroke-width="1"/>
<line x1="1334" y1="652.5" x2="1334" y2="658" stroke="#333" stroke-width="1.1"/>
<line x1="1327.0" y1="655.5" x2="1341.0" y2="655.5" stroke="#151515" stroke-width="1.6"/>
<line x1="771.500" y1="395.500" x2="1426.500" y2="542.200" stroke="#ff6464" stroke-opacity=".85" stroke-width="1.500" stroke-dasharray="3.1 3.15"/>
<line x1="739" y1="514" x2="1428.5" y2="565" stroke="#ff5c5c" stroke-opacity=".85" stroke-width="1.600"/>
<line x1="739" y1="561" x2="1426" y2="716.200" stroke="#78d278" stroke-opacity=".85" stroke-width="1.500" stroke-dasharray="3.1 3.15"/>
<path d="M769.700 410.500h3.600v5h2.200l-4 5-4-5h2.200z" fill="#f5a020"/>
<path d="M783.900 426.800v6.400l-4.200-3.200z" fill="#f5a020"/>
<path d="M1113 676.75l4 3-4 3z" fill="#5d9df6"/>
<path d="M1122.9 697.9L1128.1 703.1M1128.1 697.9L1122.9 703.1" stroke="#5d9df6" stroke-width="3" stroke-linecap="round"/>
<path d="M1197 653l4 3-4 3z" fill="#2fb52f"/>
<path d="M1206.4 668.65L1211.6 673.85M1211.6 668.65L1206.4 673.85" stroke="#2fb52f" stroke-width="3" stroke-linecap="round"/>
</svg>
<div style="position:absolute;left:739px;top:382.7px;width:90.5px;height:12.5px;background:#f5f5f5;border:1px solid #d4d4d4;border-left:none;border-top:none;box-sizing:border-box"></div>
<span class="t" style="left:742px;top:389.25px;font-size:9.5px;color:#222;transform:translate(0,-50%) scaleX(0.875);transform-origin:0 50%;">Price</span>
<svg class="ov" width="1470" height="764" viewBox="0 0 1470 764">
<g transform="translate(763,382.75)"><path d="M2 9.6L6.4 5.2" stroke="#2e2e2e" stroke-width="3.3" stroke-linecap="round"/><circle cx="7.5" cy="3.9" r="3.15" fill="#2e2e2e"/><path d="M2 9.6L6.4 5.2" stroke="#f4f4f4" stroke-width="1.4" stroke-linecap="round"/><circle cx="7.5" cy="3.9" r="2" fill="#f4f4f4"/><path d="M7.9 3.5L11.6 -.2" stroke="#f5f5f5" stroke-width="2.1"/></g>
<rect x="777" y="383.95" width="9" height="9.3" rx="1.4" fill="#fff" stroke="#222" stroke-width="1"/><rect x="777.3" y="383.75" width="8.4" height="2.6" rx=".8" fill="#111"/>
<circle cx="794.5" cy="388.55" r="5" fill="#1e1e1e"/><path d="M792.5 386.55l4 4M796.5 386.55l-4 4" stroke="#fff" stroke-width="1.7"/>
<rect x="803.3" y="384.6" width="9.400" height="9.400" rx="1" fill="#eef4ff" stroke="#9db8e8" stroke-width=".800"/>
<path d="M806.9 386.1h2.200v2.800h1.900l-3 3.600-3-3.600h1.900z" fill="#e02020"/>
<rect x="816.5" y="384.6" width="9.400" height="9.400" rx="1" fill="#eef4ff" stroke="#9db8e8" stroke-width=".800"/>
<path d="M820.1 392.5h2.200v-2.800h1.900l-3-3.600-3 3.600h1.900z" fill="#19a819"/>
</svg>
<span class="t" style="left:832.7px;top:389.1px;font-size:9.5px;color:#222;transform:translate(0,-50%) scaleX(0.889);transform-origin:0 50%;">Day:High 24,333.6 Low 23,780.0</span>
<span class="t" style="left:740px;top:716.3px;font-size:9.5px;color:#222;transform:translate(0,-50%) scaleX(0.89);transform-origin:0 50%;">© IT-Finance.com</span>
<span class="t" style="left:810.5px;top:716.3px;font-size:9.5px;color:#222;transform:translate(0,-50%) scaleX(0.914);transform-origin:0 50%;font-style:italic;">Data is indicative</span>
<div style="position:absolute;left:1099.8px;top:706.9px;width:52px;height:14.1px;background:#d6e6fd;border:1.5px solid #86b6f8;border-bottom:none;border-radius:3.5px 3.5px 0 0;box-sizing:border-box"></div>
<span class="t" style="left:1102.5px;top:715px;font-size:9.5px;color:#222;transform:translate(0,-50%) scaleX(0.875);transform-origin:0 50%;">1@23,804.3</span>
<div style="position:absolute;left:1183.8px;top:706.9px;width:51.5px;height:14.1px;background:#c9f3c9;border:1.5px solid #7cda7c;border-bottom:none;border-radius:3.5px 3.5px 0 0;box-sizing:border-box"></div>
<span class="t" style="left:1186.5px;top:715px;font-size:9.5px;color:#222;transform:translate(0,-50%) scaleX(0.875);transform-origin:0 50%;">1@23,826.0</span>
<svg class="ov" width="1470" height="764" viewBox="0 0 1470 764">
<line x1="1428.5" y1="413.8" x2="1431.7" y2="413.8" stroke="#b0b0b0"/>
</svg>
<span class="t" style="left:1433.7px;top:414.1px;font-size:9.5px;color:#222;transform:translate(0,-50%) scaleX(0.875);transform-origin:0 50%;">24,050</span>
<svg class="ov" width="1470" height="764" viewBox="0 0 1470 764">
<line x1="1428.5" y1="467.5" x2="1431.7" y2="467.5" stroke="#b0b0b0"/>
</svg>
<span class="t" style="left:1433.7px;top:467.8px;font-size:9.7px;color:#111;transform:translate(0,-50%) scaleX(0.97);transform-origin:0 50%;font-weight:bold;">24,000</span>
<svg class="ov" width="1470" height="764" viewBox="0 0 1470 764">
<line x1="1428.5" y1="521.5" x2="1431.7" y2="521.5" stroke="#b0b0b0"/>
</svg>
<span class="t" style="left:1433.7px;top:521.8px;font-size:9.5px;color:#222;transform:translate(0,-50%) scaleX(0.875);transform-origin:0 50%;">23,950</span>
<svg class="ov" width="1470" height="764" viewBox="0 0 1470 764">
<line x1="1428.5" y1="576" x2="1431.7" y2="576" stroke="#b0b0b0"/>
</svg>
<span class="t" style="left:1433.7px;top:576.3px;font-size:9.5px;color:#222;transform:translate(0,-50%) scaleX(0.875);transform-origin:0 50%;">23,900</span>
<svg class="ov" width="1470" height="764" viewBox="0 0 1470 764">
<line x1="1428.5" y1="629.5" x2="1431.7" y2="629.5" stroke="#b0b0b0"/>
</svg>
<span class="t" style="left:1433.7px;top:629.8px;font-size:9.5px;color:#222;transform:translate(0,-50%) scaleX(0.875);transform-origin:0 50%;">23,850</span>
<svg class="ov" width="1470" height="764" viewBox="0 0 1470 764">
<line x1="1428.5" y1="683.8" x2="1431.7" y2="683.8" stroke="#b0b0b0"/>
</svg>
<span class="t" style="left:1433.7px;top:684.0999999999999px;font-size:9.5px;color:#222;transform:translate(0,-50%) scaleX(0.875);transform-origin:0 50%;">23,800</span>
<svg class="ov" width="1470" height="764" viewBox="0 0 1470 764">
<line x1="1428.5" y1="655" x2="1432.5" y2="655" stroke="#333"/>
</svg>
<div style="position:absolute;left:1432.5px;top:649.3px;width:35px;height:11.3px;background:#f7c511"></div>
<span class="t" style="left:1433.8px;top:655.2px;font-size:9.8px;color:#222;transform:translate(0,-50%) scaleX(0.875);transform-origin:0 50%;">23,826.5</span>
<div style="position:absolute;left:1432.5px;top:661px;width:32.3px;height:11.5px;background:#8fe08f"></div>
<span class="t" style="left:1434.5px;top:667px;font-size:9.8px;color:#1a3a1a;transform:translate(0,-50%) scaleX(0.875);transform-origin:0 50%;">10m02s</span>
<svg class="ov" width="1470" height="764" viewBox="0 0 1470 764">
<line x1="792.75" y1="720.500" x2="792.75" y2="723" stroke="#b0b0b0"/>
</svg>
<span class="t" style="left:792.75px;top:731px;font-size:9.5px;color:#222;transform:translate(-50%,-50%) scaleX(0.875);transform-origin:50% 50%;">14:00</span>
<svg class="ov" width="1470" height="764" viewBox="0 0 1470 764">
<line x1="875.5" y1="720.500" x2="875.5" y2="723" stroke="#b0b0b0"/>
</svg>
<span class="t" style="left:875.5px;top:731px;font-size:9.5px;color:#222;transform:translate(-50%,-50%) scaleX(0.875);transform-origin:50% 50%;">15:00</span>
<svg class="ov" width="1470" height="764" viewBox="0 0 1470 764">
<line x1="959" y1="720.500" x2="959" y2="723" stroke="#b0b0b0"/>
</svg>
<span class="t" style="left:959px;top:731px;font-size:9.5px;color:#222;transform:translate(-50%,-50%) scaleX(0.875);transform-origin:50% 50%;">16:00</span>
<svg class="ov" width="1470" height="764" viewBox="0 0 1470 764">
<line x1="1042.75" y1="720.500" x2="1042.75" y2="723" stroke="#b0b0b0"/>
</svg>
<span class="t" style="left:1042.75px;top:731px;font-size:9.5px;color:#222;transform:translate(-50%,-50%) scaleX(0.875);transform-origin:50% 50%;">17:00</span>
<svg class="ov" width="1470" height="764" viewBox="0 0 1470 764">
<line x1="1125.5" y1="720.500" x2="1125.5" y2="723" stroke="#b0b0b0"/>
</svg>
<span class="t" style="left:1125.5px;top:731px;font-size:9.5px;color:#222;transform:translate(-50%,-50%) scaleX(0.875);transform-origin:50% 50%;">18:00</span>
<svg class="ov" width="1470" height="764" viewBox="0 0 1470 764">
<line x1="1209.25" y1="720.500" x2="1209.25" y2="723" stroke="#b0b0b0"/>
</svg>
<span class="t" style="left:1209.25px;top:731px;font-size:9.5px;color:#222;transform:translate(-50%,-50%) scaleX(0.875);transform-origin:50% 50%;">19:00</span>
<svg class="ov" width="1470" height="764" viewBox="0 0 1470 764">
<line x1="1292.5" y1="720.500" x2="1292.5" y2="723" stroke="#b0b0b0"/>
</svg>
<span class="t" style="left:1292.5px;top:731px;font-size:9.5px;color:#222;transform:translate(-50%,-50%) scaleX(0.875);transform-origin:50% 50%;">20:00</span>
<svg class="ov" width="1470" height="764" viewBox="0 0 1470 764">
<line x1="1375.5" y1="720.500" x2="1375.5" y2="723" stroke="#b0b0b0"/>
</svg>
<span class="t" style="left:1375.5px;top:731px;font-size:9.5px;color:#222;transform:translate(-50%,-50%) scaleX(0.875);transform-origin:50% 50%;">21:00</span>
<div style="position:absolute;left:738.5px;top:736.5px;width:729px;height:1.5px;background:#dcdcdc"></div>
<div style="position:absolute;left:738.5px;top:738px;width:729px;height:23.7px;background:linear-gradient(#fafafa,#ededed)"></div>
<div style="position:absolute;left:826.8px;top:745px;width:552.5px;height:12px;background:#e9e9e9;border:1px solid #cdcdcd;border-radius:3px;box-sizing:border-box"></div>
<div style="position:absolute;left:826.8px;top:745px;width:12px;height:12px;background:#fbfbfb;border:1px solid #c8c8c8;border-radius:3px;box-sizing:border-box"></div>
<svg class="ov" width="1470" height="764" viewBox="0 0 1470 764">
<path d="M834.3 748.4v5.2l-3.2-2.6z" fill="#111"/>
</svg>
<div style="position:absolute;left:1367.3px;top:745px;width:12px;height:12px;background:#fbfbfb;border:1px solid #c8c8c8;border-radius:3px;box-sizing:border-box"></div>
<svg class="ov" width="1470" height="764" viewBox="0 0 1470 764">
<path d="M1372.0 748.4v5.2l3.2-2.6z" fill="#111"/>
</svg>
<div style="position:absolute;left:1358px;top:745px;width:9px;height:12px;background:#f6f6f6;border:1px solid #c8c8c8;border-radius:3px;box-sizing:border-box"></div>
<svg class="ov" width="1470" height="764" viewBox="0 0 1470 764">
<path d="M1360.5 749.5h4M1360.5 751.0h4M1360.5 752.5h4" stroke="#c0c0c0" stroke-width=".8"/>
<g transform="translate(742.7,742.5)"><rect x=".7" y="3.300" width="12" height="10.300" rx="1.200" fill="#fff" stroke="#4a7ae0" stroke-width="1.400"/><path d="M2.300 11.500l2.600-3.600 2 2" stroke="#e04040" stroke-width="1" fill="none"/><path d="M2.600 10.500c.8-5 4-7 7.400-7V.5l4.600 4.600-4.600 4.600V6.900c-3.200 0-5.400 1-7.400 3.600z" fill="#4fd24f" stroke="#2fae2f" stroke-width=".6"/><path d="M9.200 11.700h4.400l-2.200 2.600z" fill="#111"/></g>
<g transform="translate(762,742.500)"><circle cx="3.900" cy="4" r="3.200" fill="#ececec" stroke="#4a4a4a" stroke-width="1.300"/><circle cx="3.900" cy="11.900" r="3.200" fill="#ececec" stroke="#4a4a4a" stroke-width="1.300"/><path d="M2.800 4h2.200M3.900 2.600v2.800M2.800 11.900h2.200M3.900 10.500v2.800" stroke="#333" stroke-width=".8"/>
<path d="M10.900 4v7.600" stroke="#b04040" stroke-width=".8"/><rect x="9.200" y="4.900" width="3.400" height="5.200" rx=".5" fill="#ea5a5a" stroke="#d04848" stroke-width=".5"/><path d="M15.850 .2v12" stroke="#2aa82a" stroke-width=".9"/><rect x="14" y="1.900" width="3.700" height="7.900" rx=".5" fill="#43d843" stroke="#2fb82f" stroke-width=".6"/><path d="M11.700 12.300h4l-2 2.200z" fill="#111"/></g>
<g transform="translate(787.300,744.400)"><rect x=".3" y=".3" width="10.400" height="11.800" rx="1.200" fill="#3c3c3c" stroke="#2a2a2a" stroke-width=".7"/><path d="M2 3.200h5M2 5.400h7M2 7.600h7M4.500 9.800h4.500" stroke="#e8e8e8" stroke-width=".9" stroke-dasharray="2.200 .8"/><rect x="7.300" y="1.600" width="2.400" height="1.700" fill="#ee5050"/><rect x="1.500" y="9" width="2.600" height="1.900" fill="#35d235"/></g>
<g transform="translate(809,744.700)"><rect x="0" y=".2" width="6" height="2.500" fill="#35b54a"/><rect x="1.100" y="3.300" width="4.900" height="2.500" fill="#35b54a"/><rect x="0" y="6.400" width="6" height="2.500" fill="#35b54a"/><rect x="0" y="9.500" width="6" height="2.500" fill="#35b54a"/><rect x="6" y=".2" width="3.700" height="2.500" fill="#e87878"/><rect x="6" y="3.300" width="6" height="2.500" fill="#e87878"/><rect x="6" y="6.400" width="6" height="2.500" fill="#e87878"/><rect x="6" y="9.500" width="2.600" height="2.500" fill="#e87878"/><path d="M6 0v12.200" stroke="#6a9a6a" stroke-width=".5"/></g>
<g transform="translate(1384.5,744)"><path d="M9.8 -1v16" stroke="#2a2a2a" stroke-width=".9"/><rect x="7.600" y=".8" width="4.500" height="13" fill="#2fd42f" stroke="#2a7a2a" stroke-width=".7"/><rect x=".8" y="6.400" width="4.600" height="6.600" fill="#e36060" stroke="#7a3a3a" stroke-width=".7" stroke-dasharray="1.2 .8"/><path d="M2.200 11.800L8.600 5.400" stroke="#3a3a3a" stroke-width="3.300" stroke-linecap="round"/><circle cx="9.600" cy="4.600" r="2.900" fill="#3a3a3a"/><path d="M2.200 11.800L8.600 5.400" stroke="#fff" stroke-width="1.600" stroke-linecap="round"/><circle cx="9.600" cy="4.600" r="1.700" fill="#fff"/><path d="M9.900 4.300L12.600 1.600" stroke="#2fd42f" stroke-width="1.900"/></g>
<g transform="translate(1406,744.5)"><defs><radialGradient id="lensa" cx=".4" cy=".35" r=".7"><stop offset="0" stop-color="#fff"/><stop offset="1" stop-color="#d6d6d6"/></radialGradient></defs><path d="M8 8l4.600 4.600" stroke="#0a0a0a" stroke-width="2.600" stroke-linecap="round"/><circle cx="5" cy="5" r="4.100" fill="url(#lensa)" stroke="#5c5c5c" stroke-width="1.300"/><path d="M13 1.500v6M11.500 2.600l1.500-2 1.500 2zM11.500 6.400l1.500 2 1.500-2z" stroke="#1414ff" stroke-width="1" fill="#1414ff"/><path d="M1.500 12.300h5M2.600 10.800l-2 1.500 2 1.500zM5.400 10.800l2 1.500-2 1.500z" stroke="#1414ff" stroke-width="1" fill="#1414ff"/></g>
<g transform="translate(1428.2,744.5)"><defs><radialGradient id="lensm" cx=".4" cy=".35" r=".7"><stop offset="0" stop-color="#fff"/><stop offset="1" stop-color="#d6d6d6"/></radialGradient></defs><path d="M8 8l4.600 4.600" stroke="#0a0a0a" stroke-width="2.600" stroke-linecap="round"/><circle cx="5" cy="5" r="4.100" fill="url(#lensm)" stroke="#5c5c5c" stroke-width="1.300"/><path d="M2.800 5h4.400" stroke="#1414ff" stroke-width="1.900"/></g>
<g transform="translate(1449.7,744.5)"><defs><radialGradient id="lensp" cx=".4" cy=".35" r=".7"><stop offset="0" stop-color="#fff"/><stop offset="1" stop-color="#d6d6d6"/></radialGradient></defs><path d="M8 8l4.600 4.600" stroke="#0a0a0a" stroke-width="2.600" stroke-linecap="round"/><circle cx="5" cy="5" r="4.100" fill="url(#lensp)" stroke="#5c5c5c" stroke-width="1.300"/><path d="M2.800 5h4.400M5 2.800v4.400" stroke="#1414ff" stroke-width="1.900"/></g>
</svg>
<div style="position:absolute;left:734.6px;top:3.6px;width:1.5px;height:760.4px;background:#2f6a22"></div>
<div style="position:absolute;left:735.8px;top:22px;width:2.6px;height:742px;background:linear-gradient(90deg,#4f8d3b,#5f9d4c 50%,#4f8d3b)"></div>
<div style="position:absolute;left:1467.5px;top:22px;width:2.5px;height:742px;background:#4f8d3b"></div>
<div style="position:absolute;left:735px;top:761px;width:735px;height:3px;background:#4f8d3b"></div>
</body></html>
